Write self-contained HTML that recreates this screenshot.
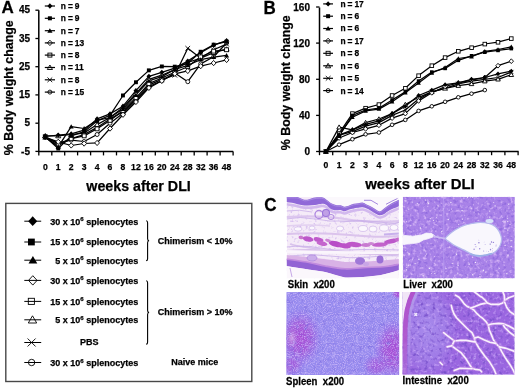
<!DOCTYPE html>
<html><head><meta charset="utf-8"><style>
html,body{margin:0;padding:0;background:#fff;}
body{width:520px;height:389px;overflow:hidden;}
svg{display:block;will-change:transform;}
text{font-family:"Liberation Sans", sans-serif;font-weight:bold;fill:#000;stroke:#000;stroke-width:0.25px;}
.pl{font-size:17px;}
.pc{font-size:17px;}
.tl{font-size:10px;}
.xl{font-size:8.6px;}
.lg{font-size:8.4px;word-spacing:-0.3px;}
.yl{font-size:12.4px;}
.wt{font-size:15px;}
.bx{font-size:9px;}
.sup{font-size:6px;}
.cl{font-size:9.6px;}
</style></head><body>
<svg width="520" height="389" viewBox="0 0 520 389">
<defs><filter id="nL" x="0" y="0" width="1" height="1" color-interpolation-filters="sRGB"><feTurbulence type="fractalNoise" baseFrequency="0.3" numOctaves="2" seed="3"/><feColorMatrix type="matrix" values="0 0 0 0 0.871 0 0 0 0 0.745 0 0 0 0 0.980 2.6 0 0 0 -1.35"/><feGaussianBlur stdDeviation="0.45"/></filter><filter id="nD" x="0" y="0" width="1" height="1" color-interpolation-filters="sRGB"><feTurbulence type="fractalNoise" baseFrequency="0.28" numOctaves="2" seed="8"/><feColorMatrix type="matrix" values="0 0 0 0 0.541 0 0 0 0 0.392 0 0 0 0 0.863 0 2.6 0 0 -1.35"/><feGaussianBlur stdDeviation="0.45"/></filter><filter id="nS" x="0" y="0" width="1" height="1" color-interpolation-filters="sRGB"><feTurbulence type="fractalNoise" baseFrequency="0.9" numOctaves="1" seed="5"/><feColorMatrix type="matrix" values="0 0 0 0 0.824 0 0 0 0 0.737 0 0 0 0 0.980 2.5 0 0 0 -1.15"/><feGaussianBlur stdDeviation="0.45"/></filter><filter id="nSD" x="0" y="0" width="1" height="1" color-interpolation-filters="sRGB"><feTurbulence type="fractalNoise" baseFrequency="0.22" numOctaves="2" seed="11"/><feColorMatrix type="matrix" values="0 0 0 0 0.490 0 0 0 0 0.424 0 0 0 0 0.878 0 2.2 0 0 -1.2"/><feGaussianBlur stdDeviation="0.45"/></filter><filter id="nS2" x="0" y="0" width="1" height="1" color-interpolation-filters="sRGB"><feTurbulence type="fractalNoise" baseFrequency="0.25" numOctaves="2" seed="29"/><feColorMatrix type="matrix" values="0 0 0 0 0.769 0 0 0 0 0.714 0 0 0 0 0.980 0 0 2.0 0 -1.1"/><feGaussianBlur stdDeviation="0.45"/></filter><filter id="nI" x="0" y="0" width="1" height="1" color-interpolation-filters="sRGB"><feTurbulence type="fractalNoise" baseFrequency="0.3" numOctaves="2" seed="13"/><feColorMatrix type="matrix" values="0 0 0 0 0.784 0 0 0 0 0.647 0 0 0 0 0.965 2.6 0 0 0 -1.35"/><feGaussianBlur stdDeviation="0.45"/></filter><filter id="nID" x="0" y="0" width="1" height="1" color-interpolation-filters="sRGB"><feTurbulence type="fractalNoise" baseFrequency="0.28" numOctaves="2" seed="17"/><feColorMatrix type="matrix" values="0 0 0 0 0.451 0 0 0 0 0.294 0 0 0 0 0.784 0 2.6 0 0 -1.35"/><feGaussianBlur stdDeviation="0.45"/></filter><filter id="nK" x="0" y="0" width="1" height="1" color-interpolation-filters="sRGB"><feTurbulence type="fractalNoise" baseFrequency="0.35" numOctaves="2" seed="21"/><feColorMatrix type="matrix" values="0 0 0 0 0.784 0 0 0 0 0.667 0 0 0 0 0.925 2.4 0 0 0 -1.35"/><feGaussianBlur stdDeviation="0.45"/></filter></defs>
<text transform="translate(1.5 13.4) scale(1.0 1.02)" class="pl">A</text>
<path d="M38.8 10.2 V151.6 H233.2" fill="none" stroke="#000" stroke-width="1.5"/>
<path d="M35.4 10.2 H38.8" stroke="#000" stroke-width="1.3"/>
<text x="30.0" y="13.3" class="tl" text-anchor="end">45</text>
<path d="M35.4 38.5 H38.8" stroke="#000" stroke-width="1.3"/>
<text x="30.0" y="41.6" class="tl" text-anchor="end">35</text>
<path d="M35.4 66.7 H38.8" stroke="#000" stroke-width="1.3"/>
<text x="30.0" y="69.8" class="tl" text-anchor="end">25</text>
<path d="M35.4 94.9 H38.8" stroke="#000" stroke-width="1.3"/>
<text x="30.0" y="98.0" class="tl" text-anchor="end">15</text>
<path d="M35.4 123.2 H38.8" stroke="#000" stroke-width="1.3"/>
<text x="30.0" y="126.3" class="tl" text-anchor="end">5</text>
<path d="M35.4 151.4 H38.8" stroke="#000" stroke-width="1.3"/>
<text x="30.0" y="154.5" class="tl" text-anchor="end">-5</text>
<path d="M38.8 151.6 V155.4" stroke="#000" stroke-width="1.3"/>
<path d="M51.8 151.6 V155.4" stroke="#000" stroke-width="1.3"/>
<path d="M64.7 151.6 V155.4" stroke="#000" stroke-width="1.3"/>
<path d="M77.6 151.6 V155.4" stroke="#000" stroke-width="1.3"/>
<path d="M90.6 151.6 V155.4" stroke="#000" stroke-width="1.3"/>
<path d="M103.5 151.6 V155.4" stroke="#000" stroke-width="1.3"/>
<path d="M116.5 151.6 V155.4" stroke="#000" stroke-width="1.3"/>
<path d="M129.4 151.6 V155.4" stroke="#000" stroke-width="1.3"/>
<path d="M142.4 151.6 V155.4" stroke="#000" stroke-width="1.3"/>
<path d="M155.3 151.6 V155.4" stroke="#000" stroke-width="1.3"/>
<path d="M168.3 151.6 V155.4" stroke="#000" stroke-width="1.3"/>
<path d="M181.2 151.6 V155.4" stroke="#000" stroke-width="1.3"/>
<path d="M194.2 151.6 V155.4" stroke="#000" stroke-width="1.3"/>
<path d="M207.1 151.6 V155.4" stroke="#000" stroke-width="1.3"/>
<path d="M220.1 151.6 V155.4" stroke="#000" stroke-width="1.3"/>
<path d="M233.1 151.6 V155.4" stroke="#000" stroke-width="1.3"/>
<text x="45.3" y="170.4" class="xl" text-anchor="middle">0</text>
<text x="58.2" y="170.4" class="xl" text-anchor="middle">1</text>
<text x="71.2" y="170.4" class="xl" text-anchor="middle">2</text>
<text x="84.1" y="170.4" class="xl" text-anchor="middle">3</text>
<text x="97.1" y="170.4" class="xl" text-anchor="middle">4</text>
<text x="110.0" y="170.4" class="xl" text-anchor="middle">6</text>
<text x="123.0" y="170.4" class="xl" text-anchor="middle">8</text>
<text x="135.9" y="170.4" class="xl" text-anchor="middle">12</text>
<text x="148.9" y="170.4" class="xl" text-anchor="middle">16</text>
<text x="161.8" y="170.4" class="xl" text-anchor="middle">20</text>
<text x="174.8" y="170.4" class="xl" text-anchor="middle">24</text>
<text x="187.8" y="170.4" class="xl" text-anchor="middle">28</text>
<text x="200.7" y="170.4" class="xl" text-anchor="middle">32</text>
<text x="213.6" y="170.4" class="xl" text-anchor="middle">36</text>
<text x="226.6" y="170.4" class="xl" text-anchor="middle">48</text>
<path d="M44.8 6.0 H55" stroke="#000" stroke-width="1.2"/>
<path d="M49.9 3.3L52.4 6.0L49.9 8.7L47.4 6.0Z" fill="#000"/>
<text x="60.8" y="8.9" class="lg">n = 9</text>
<path d="M44.8 18.3 H55" stroke="#000" stroke-width="1.2"/>
<rect x="47.9" y="16.3" width="4.0" height="4.0" fill="#000"/>
<text x="60.8" y="21.2" class="lg">n = 9</text>
<path d="M44.8 30.7 H55" stroke="#000" stroke-width="1.2"/>
<path d="M49.9 28.2L52.5 32.7L47.3 32.7Z" fill="#000"/>
<text x="60.8" y="33.6" class="lg">n = 7</text>
<path d="M44.8 42.9 H55" stroke="#000" stroke-width="1.2"/>
<path d="M49.9 40.2L52.4 42.9L49.9 45.6L47.4 42.9Z" fill="none" stroke="#000" stroke-width="0.9"/>
<text x="60.8" y="45.8" class="lg">n = 13</text>
<path d="M44.8 55.1 H55" stroke="#000" stroke-width="1.2"/>
<rect x="47.9" y="53.1" width="4.0" height="4.0" fill="none" stroke="#000" stroke-width="0.9"/>
<text x="60.8" y="58.0" class="lg">n = 8</text>
<path d="M44.8 67.5 H55" stroke="#000" stroke-width="1.2"/>
<path d="M49.9 65.0L52.5 69.5L47.3 69.5Z" fill="none" stroke="#000" stroke-width="0.9"/>
<text x="60.8" y="70.4" class="lg">n = 11</text>
<path d="M44.8 79.8 H55" stroke="#000" stroke-width="1.2"/>
<path d="M47.5 77.5L52.2 82.1M52.2 77.5L47.5 82.1" stroke="#000" stroke-width="0.9" fill="none"/>
<text x="60.8" y="82.7" class="lg">n = 8</text>
<path d="M44.8 92.1 H55" stroke="#000" stroke-width="1.2"/>
<circle cx="49.9" cy="92.1" r="2.0" fill="none" stroke="#000" stroke-width="0.9"/>
<text x="60.8" y="95.0" class="lg">n = 15</text>
<path d="M45.3 136.5 L58.2 135.0 L71.2 133.9 L84.1 130.2 L97.1 118.9 L110.0 113.9 L123.0 106.2 L135.9 90.7 L148.9 76.3 L161.8 72.3 L174.8 68.1 L187.8 61.1 L200.7 52.6 L213.6 45.2 L226.6 40.7" fill="none" stroke="#000" stroke-width="1.25" stroke-linejoin="round"/>
<path d="M45.3 136.7 L58.2 148.6 L71.2 135.9 L84.1 131.7 L97.1 120.9 L110.0 115.3 L123.0 95.5 L135.9 82.2 L148.9 70.4 L161.8 66.4 L174.8 66.7 L187.8 63.3 L200.7 51.7 L213.6 44.7 L226.6 41.6" fill="none" stroke="#000" stroke-width="1.25" stroke-linejoin="round"/>
<path d="M45.3 137.3 L58.2 146.9 L71.2 126.6 L84.1 128.5 L97.1 120.4 L110.0 117.5 L123.0 109.1 L135.9 94.9 L148.9 80.8 L161.8 76.6 L174.8 69.5 L187.8 65.3 L200.7 59.6 L213.6 57.1 L226.6 55.4" fill="none" stroke="#000" stroke-width="1.25" stroke-linejoin="round"/>
<path d="M45.3 137.3 L58.2 141.8 L71.2 145.5 L84.1 143.5 L97.1 142.9 L110.0 128.5 L123.0 114.7 L135.9 102.0 L148.9 87.9 L161.8 80.8 L174.8 73.8 L187.8 70.9 L200.7 66.1 L213.6 63.0 L226.6 59.9" fill="none" stroke="#000" stroke-width="1.25" stroke-linejoin="round"/>
<path d="M45.3 136.7 L58.2 144.1 L71.2 138.7 L84.1 135.9 L97.1 128.8 L110.0 120.4 L123.0 110.5 L135.9 97.8 L148.9 83.6 L161.8 78.0 L174.8 72.3 L187.8 66.7 L200.7 56.8 L213.6 51.2 L226.6 49.8" fill="none" stroke="#000" stroke-width="1.25" stroke-linejoin="round"/>
<path d="M45.3 135.9 L58.2 135.9 L71.2 134.5 L84.1 133.1 L97.1 124.6 L110.0 117.5 L123.0 107.6 L135.9 93.5 L148.9 79.4 L161.8 75.2 L174.8 69.5 L187.8 62.5 L200.7 58.2 L213.6 52.6 L226.6 49.2" fill="none" stroke="#000" stroke-width="1.25" stroke-linejoin="round"/>
<path d="M45.3 137.3 L58.2 145.8 L71.2 138.7 L84.1 134.5 L97.1 127.4 L110.0 118.9 L123.0 111.9 L135.9 99.2 L148.9 85.1 L161.8 79.4 L174.8 75.2 L187.8 48.3 L200.7 58.2 L213.6 49.8 L226.6 44.1" fill="none" stroke="#000" stroke-width="1.25" stroke-linejoin="round"/>
<path d="M45.3 137.3 L58.2 142.9 L71.2 140.1 L84.1 141.5 L97.1 134.5 L110.0 123.2 L123.0 113.3 L135.9 100.6 L148.9 86.5 L161.8 80.8 L174.8 72.9 L187.8 81.7 L200.7 63.9 L213.6 56.8 L226.6 43.0" fill="none" stroke="#000" stroke-width="1.25" stroke-linejoin="round"/>
<circle cx="45.3" cy="137.3" r="2.0" fill="#fff" stroke="#000" stroke-width="0.9"/>
<circle cx="58.2" cy="142.9" r="2.0" fill="#fff" stroke="#000" stroke-width="0.9"/>
<circle cx="71.2" cy="140.1" r="2.0" fill="#fff" stroke="#000" stroke-width="0.9"/>
<circle cx="84.1" cy="141.5" r="2.0" fill="#fff" stroke="#000" stroke-width="0.9"/>
<circle cx="97.1" cy="134.5" r="2.0" fill="#fff" stroke="#000" stroke-width="0.9"/>
<circle cx="110.0" cy="123.2" r="2.0" fill="#fff" stroke="#000" stroke-width="0.9"/>
<circle cx="123.0" cy="113.3" r="2.0" fill="#fff" stroke="#000" stroke-width="0.9"/>
<circle cx="135.9" cy="100.6" r="2.0" fill="#fff" stroke="#000" stroke-width="0.9"/>
<circle cx="148.9" cy="86.5" r="2.0" fill="#fff" stroke="#000" stroke-width="0.9"/>
<circle cx="161.8" cy="80.8" r="2.0" fill="#fff" stroke="#000" stroke-width="0.9"/>
<circle cx="174.8" cy="72.9" r="2.0" fill="#fff" stroke="#000" stroke-width="0.9"/>
<circle cx="187.8" cy="81.7" r="2.0" fill="#fff" stroke="#000" stroke-width="0.9"/>
<circle cx="200.7" cy="63.9" r="2.0" fill="#fff" stroke="#000" stroke-width="0.9"/>
<circle cx="213.6" cy="56.8" r="2.0" fill="#fff" stroke="#000" stroke-width="0.9"/>
<circle cx="226.6" cy="43.0" r="2.0" fill="#fff" stroke="#000" stroke-width="0.9"/>
<path d="M43.0 135.0L47.6 139.6M47.6 135.0L43.0 139.6" stroke="#000" stroke-width="0.9" fill="none"/>
<path d="M56.0 143.5L60.5 148.1M60.5 143.5L56.0 148.1" stroke="#000" stroke-width="0.9" fill="none"/>
<path d="M68.9 136.4L73.5 141.0M73.5 136.4L68.9 141.0" stroke="#000" stroke-width="0.9" fill="none"/>
<path d="M81.8 132.2L86.4 136.8M86.4 132.2L81.8 136.8" stroke="#000" stroke-width="0.9" fill="none"/>
<path d="M94.8 125.1L99.4 129.7M99.4 125.1L94.8 129.7" stroke="#000" stroke-width="0.9" fill="none"/>
<path d="M107.8 116.6L112.3 121.2M112.3 116.6L107.8 121.2" stroke="#000" stroke-width="0.9" fill="none"/>
<path d="M120.7 109.6L125.3 114.2M125.3 109.6L120.7 114.2" stroke="#000" stroke-width="0.9" fill="none"/>
<path d="M133.6 96.9L138.2 101.5M138.2 96.9L133.6 101.5" stroke="#000" stroke-width="0.9" fill="none"/>
<path d="M146.6 82.8L151.2 87.4M151.2 82.8L146.6 87.4" stroke="#000" stroke-width="0.9" fill="none"/>
<path d="M159.5 77.1L164.2 81.7M164.2 77.1L159.5 81.7" stroke="#000" stroke-width="0.9" fill="none"/>
<path d="M172.5 72.9L177.1 77.5M177.1 72.9L172.5 77.5" stroke="#000" stroke-width="0.9" fill="none"/>
<path d="M185.4 46.0L190.1 50.6M190.1 46.0L185.4 50.6" stroke="#000" stroke-width="0.9" fill="none"/>
<path d="M198.4 55.9L203.0 60.5M203.0 55.9L198.4 60.5" stroke="#000" stroke-width="0.9" fill="none"/>
<path d="M211.3 47.5L215.9 52.1M215.9 47.5L211.3 52.1" stroke="#000" stroke-width="0.9" fill="none"/>
<path d="M224.3 41.8L228.9 46.4M228.9 41.8L224.3 46.4" stroke="#000" stroke-width="0.9" fill="none"/>
<path d="M45.3 133.5L47.8 137.8L42.8 137.8Z" fill="#fff" stroke="#000" stroke-width="0.9"/>
<path d="M58.2 133.5L60.8 137.8L55.7 137.8Z" fill="#fff" stroke="#000" stroke-width="0.9"/>
<path d="M71.2 132.1L73.7 136.4L68.7 136.4Z" fill="#fff" stroke="#000" stroke-width="0.9"/>
<path d="M84.1 130.6L86.7 135.0L81.6 135.0Z" fill="#fff" stroke="#000" stroke-width="0.9"/>
<path d="M97.1 122.2L99.6 126.5L94.6 126.5Z" fill="#fff" stroke="#000" stroke-width="0.9"/>
<path d="M110.0 115.1L112.6 119.5L107.5 119.5Z" fill="#fff" stroke="#000" stroke-width="0.9"/>
<path d="M123.0 105.2L125.5 109.6L120.5 109.6Z" fill="#fff" stroke="#000" stroke-width="0.9"/>
<path d="M135.9 91.1L138.5 95.5L133.4 95.5Z" fill="#fff" stroke="#000" stroke-width="0.9"/>
<path d="M148.9 77.0L151.4 81.4L146.4 81.4Z" fill="#fff" stroke="#000" stroke-width="0.9"/>
<path d="M161.8 72.8L164.4 77.1L159.3 77.1Z" fill="#fff" stroke="#000" stroke-width="0.9"/>
<path d="M174.8 67.1L177.3 71.5L172.3 71.5Z" fill="#fff" stroke="#000" stroke-width="0.9"/>
<path d="M187.8 60.0L190.3 64.4L185.2 64.4Z" fill="#fff" stroke="#000" stroke-width="0.9"/>
<path d="M200.7 55.8L203.2 60.2L198.2 60.2Z" fill="#fff" stroke="#000" stroke-width="0.9"/>
<path d="M213.6 50.2L216.2 54.5L211.1 54.5Z" fill="#fff" stroke="#000" stroke-width="0.9"/>
<path d="M226.6 46.8L229.1 51.1L224.1 51.1Z" fill="#fff" stroke="#000" stroke-width="0.9"/>
<rect x="43.3" y="134.8" width="3.9" height="3.9" fill="#fff" stroke="#000" stroke-width="0.9"/>
<rect x="56.3" y="142.1" width="3.9" height="3.9" fill="#fff" stroke="#000" stroke-width="0.9"/>
<rect x="69.2" y="136.8" width="3.9" height="3.9" fill="#fff" stroke="#000" stroke-width="0.9"/>
<rect x="82.2" y="133.9" width="3.9" height="3.9" fill="#fff" stroke="#000" stroke-width="0.9"/>
<rect x="95.1" y="126.9" width="3.9" height="3.9" fill="#fff" stroke="#000" stroke-width="0.9"/>
<rect x="108.1" y="118.4" width="3.9" height="3.9" fill="#fff" stroke="#000" stroke-width="0.9"/>
<rect x="121.0" y="108.5" width="3.9" height="3.9" fill="#fff" stroke="#000" stroke-width="0.9"/>
<rect x="134.0" y="95.8" width="3.9" height="3.9" fill="#fff" stroke="#000" stroke-width="0.9"/>
<rect x="146.9" y="81.7" width="3.9" height="3.9" fill="#fff" stroke="#000" stroke-width="0.9"/>
<rect x="159.9" y="76.0" width="3.9" height="3.9" fill="#fff" stroke="#000" stroke-width="0.9"/>
<rect x="172.8" y="70.4" width="3.9" height="3.9" fill="#fff" stroke="#000" stroke-width="0.9"/>
<rect x="185.8" y="64.7" width="3.9" height="3.9" fill="#fff" stroke="#000" stroke-width="0.9"/>
<rect x="198.7" y="54.9" width="3.9" height="3.9" fill="#fff" stroke="#000" stroke-width="0.9"/>
<rect x="211.7" y="49.2" width="3.9" height="3.9" fill="#fff" stroke="#000" stroke-width="0.9"/>
<rect x="224.6" y="47.8" width="3.9" height="3.9" fill="#fff" stroke="#000" stroke-width="0.9"/>
<path d="M45.3 134.7L47.7 137.3L45.3 139.9L42.9 137.3Z" fill="#fff" stroke="#000" stroke-width="0.9"/>
<path d="M58.2 139.2L60.7 141.8L58.2 144.5L55.8 141.8Z" fill="#fff" stroke="#000" stroke-width="0.9"/>
<path d="M71.2 142.8L73.6 145.5L71.2 148.1L68.8 145.5Z" fill="#fff" stroke="#000" stroke-width="0.9"/>
<path d="M84.1 140.9L86.6 143.5L84.1 146.2L81.7 143.5Z" fill="#fff" stroke="#000" stroke-width="0.9"/>
<path d="M97.1 140.3L99.5 142.9L97.1 145.6L94.7 142.9Z" fill="#fff" stroke="#000" stroke-width="0.9"/>
<path d="M110.0 125.9L112.5 128.5L110.0 131.2L107.6 128.5Z" fill="#fff" stroke="#000" stroke-width="0.9"/>
<path d="M123.0 112.1L125.4 114.7L123.0 117.4L120.6 114.7Z" fill="#fff" stroke="#000" stroke-width="0.9"/>
<path d="M135.9 99.4L138.4 102.0L135.9 104.6L133.5 102.0Z" fill="#fff" stroke="#000" stroke-width="0.9"/>
<path d="M148.9 85.2L151.3 87.9L148.9 90.5L146.5 87.9Z" fill="#fff" stroke="#000" stroke-width="0.9"/>
<path d="M161.8 78.2L164.3 80.8L161.8 83.5L159.4 80.8Z" fill="#fff" stroke="#000" stroke-width="0.9"/>
<path d="M174.8 71.1L177.2 73.8L174.8 76.4L172.4 73.8Z" fill="#fff" stroke="#000" stroke-width="0.9"/>
<path d="M187.8 68.3L190.2 70.9L187.8 73.6L185.3 70.9Z" fill="#fff" stroke="#000" stroke-width="0.9"/>
<path d="M200.7 63.5L203.1 66.1L200.7 68.8L198.3 66.1Z" fill="#fff" stroke="#000" stroke-width="0.9"/>
<path d="M213.6 60.4L216.1 63.0L213.6 65.7L211.2 63.0Z" fill="#fff" stroke="#000" stroke-width="0.9"/>
<path d="M226.6 57.3L229.0 59.9L226.6 62.6L224.2 59.9Z" fill="#fff" stroke="#000" stroke-width="0.9"/>
<path d="M45.3 134.9L47.8 139.3L42.8 139.3Z" fill="#000"/>
<path d="M58.2 144.5L60.8 148.9L55.7 148.9Z" fill="#000"/>
<path d="M71.2 124.2L73.7 128.5L68.7 128.5Z" fill="#000"/>
<path d="M84.1 126.1L86.7 130.5L81.6 130.5Z" fill="#000"/>
<path d="M97.1 117.9L99.6 122.3L94.6 122.3Z" fill="#000"/>
<path d="M110.0 115.1L112.6 119.5L107.5 119.5Z" fill="#000"/>
<path d="M123.0 106.6L125.5 111.0L120.5 111.0Z" fill="#000"/>
<path d="M135.9 92.5L138.5 96.9L133.4 96.9Z" fill="#000"/>
<path d="M148.9 78.4L151.4 82.8L146.4 82.8Z" fill="#000"/>
<path d="M161.8 74.2L164.4 78.5L159.3 78.5Z" fill="#000"/>
<path d="M174.8 67.1L177.3 71.5L172.3 71.5Z" fill="#000"/>
<path d="M187.8 62.9L190.3 67.2L185.2 67.2Z" fill="#000"/>
<path d="M200.7 57.2L203.2 61.6L198.2 61.6Z" fill="#000"/>
<path d="M213.6 54.7L216.2 59.1L211.1 59.1Z" fill="#000"/>
<path d="M226.6 53.0L229.1 57.4L224.1 57.4Z" fill="#000"/>
<path d="M45.3 133.8L47.7 136.5L45.3 139.1L42.9 136.5Z" fill="#000"/>
<path d="M58.2 132.4L60.7 135.0L58.2 137.7L55.8 135.0Z" fill="#000"/>
<path d="M71.2 131.3L73.6 133.9L71.2 136.6L68.8 133.9Z" fill="#000"/>
<path d="M84.1 127.6L86.6 130.2L84.1 132.9L81.7 130.2Z" fill="#000"/>
<path d="M97.1 116.3L99.5 118.9L97.1 121.6L94.7 118.9Z" fill="#000"/>
<path d="M110.0 111.2L112.5 113.9L110.0 116.5L107.6 113.9Z" fill="#000"/>
<path d="M123.0 103.6L125.4 106.2L123.0 108.9L120.6 106.2Z" fill="#000"/>
<path d="M135.9 88.1L138.4 90.7L135.9 93.3L133.5 90.7Z" fill="#000"/>
<path d="M148.9 73.7L151.3 76.3L148.9 78.9L146.5 76.3Z" fill="#000"/>
<path d="M161.8 69.7L164.3 72.3L161.8 75.0L159.4 72.3Z" fill="#000"/>
<path d="M174.8 65.5L177.2 68.1L174.8 70.8L172.4 68.1Z" fill="#000"/>
<path d="M187.8 58.4L190.2 61.1L187.8 63.7L185.3 61.1Z" fill="#000"/>
<path d="M200.7 49.9L203.1 52.6L200.7 55.2L198.3 52.6Z" fill="#000"/>
<path d="M213.6 42.6L216.1 45.2L213.6 47.9L211.2 45.2Z" fill="#000"/>
<path d="M226.6 38.1L229.0 40.7L226.6 43.4L224.2 40.7Z" fill="#000"/>
<rect x="43.3" y="134.8" width="3.9" height="3.9" fill="#000"/>
<rect x="56.3" y="146.6" width="3.9" height="3.9" fill="#000"/>
<rect x="69.2" y="133.9" width="3.9" height="3.9" fill="#000"/>
<rect x="82.2" y="129.7" width="3.9" height="3.9" fill="#000"/>
<rect x="95.1" y="119.0" width="3.9" height="3.9" fill="#000"/>
<rect x="108.1" y="113.3" width="3.9" height="3.9" fill="#000"/>
<rect x="121.0" y="93.5" width="3.9" height="3.9" fill="#000"/>
<rect x="134.0" y="80.3" width="3.9" height="3.9" fill="#000"/>
<rect x="146.9" y="68.4" width="3.9" height="3.9" fill="#000"/>
<rect x="159.9" y="64.5" width="3.9" height="3.9" fill="#000"/>
<rect x="172.8" y="64.7" width="3.9" height="3.9" fill="#000"/>
<rect x="185.8" y="61.4" width="3.9" height="3.9" fill="#000"/>
<rect x="198.7" y="49.8" width="3.9" height="3.9" fill="#000"/>
<rect x="211.7" y="42.7" width="3.9" height="3.9" fill="#000"/>
<rect x="224.6" y="39.6" width="3.9" height="3.9" fill="#000"/>
<text transform="translate(13.1,155.2) rotate(-90)" class="yl">% Body weight change</text>
<text x="86.3" y="190.6" class="wt" textLength="104.5" lengthAdjust="spacingAndGlyphs">weeks after DLI</text>
<text transform="translate(263.5 13.8) scale(1.0 1.06)" class="pl">B</text>
<path d="M319.5 7.4 V151.4 H518.6" fill="none" stroke="#000" stroke-width="1.5"/>
<path d="M316.1 7.0 H319.5" stroke="#000" stroke-width="1.3"/>
<text x="310.0" y="10.5" class="tl" text-anchor="end">160</text>
<path d="M316.1 43.1 H319.5" stroke="#000" stroke-width="1.3"/>
<text x="310.0" y="46.6" class="tl" text-anchor="end">120</text>
<path d="M316.1 79.3 H319.5" stroke="#000" stroke-width="1.3"/>
<text x="310.0" y="82.8" class="tl" text-anchor="end">80</text>
<path d="M316.1 115.4 H319.5" stroke="#000" stroke-width="1.3"/>
<text x="310.0" y="118.9" class="tl" text-anchor="end">40</text>
<path d="M316.1 151.5 H319.5" stroke="#000" stroke-width="1.3"/>
<text x="310.0" y="155.0" class="tl" text-anchor="end">0</text>
<path d="M319.5 151.4 V155.20000000000002" stroke="#000" stroke-width="1.3"/>
<path d="M332.7 151.4 V155.20000000000002" stroke="#000" stroke-width="1.3"/>
<path d="M346.0 151.4 V155.20000000000002" stroke="#000" stroke-width="1.3"/>
<path d="M359.2 151.4 V155.20000000000002" stroke="#000" stroke-width="1.3"/>
<path d="M372.5 151.4 V155.20000000000002" stroke="#000" stroke-width="1.3"/>
<path d="M385.7 151.4 V155.20000000000002" stroke="#000" stroke-width="1.3"/>
<path d="M398.9 151.4 V155.20000000000002" stroke="#000" stroke-width="1.3"/>
<path d="M412.2 151.4 V155.20000000000002" stroke="#000" stroke-width="1.3"/>
<path d="M425.4 151.4 V155.20000000000002" stroke="#000" stroke-width="1.3"/>
<path d="M438.7 151.4 V155.20000000000002" stroke="#000" stroke-width="1.3"/>
<path d="M451.9 151.4 V155.20000000000002" stroke="#000" stroke-width="1.3"/>
<path d="M465.1 151.4 V155.20000000000002" stroke="#000" stroke-width="1.3"/>
<path d="M478.4 151.4 V155.20000000000002" stroke="#000" stroke-width="1.3"/>
<path d="M491.6 151.4 V155.20000000000002" stroke="#000" stroke-width="1.3"/>
<path d="M504.9 151.4 V155.20000000000002" stroke="#000" stroke-width="1.3"/>
<path d="M518.1 151.4 V155.20000000000002" stroke="#000" stroke-width="1.3"/>
<text x="325.9" y="168.2" class="xl" text-anchor="middle">0</text>
<text x="339.1" y="168.2" class="xl" text-anchor="middle">1</text>
<text x="352.4" y="168.2" class="xl" text-anchor="middle">2</text>
<text x="365.6" y="168.2" class="xl" text-anchor="middle">3</text>
<text x="378.9" y="168.2" class="xl" text-anchor="middle">4</text>
<text x="392.1" y="168.2" class="xl" text-anchor="middle">6</text>
<text x="405.3" y="168.2" class="xl" text-anchor="middle">8</text>
<text x="418.6" y="168.2" class="xl" text-anchor="middle">12</text>
<text x="431.8" y="168.2" class="xl" text-anchor="middle">16</text>
<text x="445.1" y="168.2" class="xl" text-anchor="middle">20</text>
<text x="458.3" y="168.2" class="xl" text-anchor="middle">24</text>
<text x="471.5" y="168.2" class="xl" text-anchor="middle">28</text>
<text x="484.8" y="168.2" class="xl" text-anchor="middle">32</text>
<text x="498.0" y="168.2" class="xl" text-anchor="middle">36</text>
<text x="511.3" y="168.2" class="xl" text-anchor="middle">48</text>
<path d="M323.2 3.9 H333" stroke="#000" stroke-width="1.2"/>
<path d="M328.1 1.2L330.6 3.9L328.1 6.6L325.6 3.9Z" fill="#000"/>
<text x="340.4" y="6.8" class="lg">n = 17</text>
<path d="M323.2 16.2 H333" stroke="#000" stroke-width="1.2"/>
<rect x="326.1" y="14.2" width="4.0" height="4.0" fill="#000"/>
<text x="340.4" y="19.1" class="lg">n = 6</text>
<path d="M323.2 28.5 H333" stroke="#000" stroke-width="1.2"/>
<path d="M328.1 26.0L330.7 30.5L325.5 30.5Z" fill="#000"/>
<text x="340.4" y="31.4" class="lg">n = 6</text>
<path d="M323.2 40.9 H333" stroke="#000" stroke-width="1.2"/>
<path d="M328.1 38.2L330.6 40.9L328.1 43.6L325.6 40.9Z" fill="none" stroke="#000" stroke-width="0.9"/>
<text x="340.4" y="43.8" class="lg">n = 17</text>
<path d="M323.2 53.3 H333" stroke="#000" stroke-width="1.2"/>
<rect x="326.1" y="51.3" width="4.0" height="4.0" fill="none" stroke="#000" stroke-width="0.9"/>
<text x="340.4" y="56.2" class="lg">n = 8</text>
<path d="M323.2 65.8 H333" stroke="#000" stroke-width="1.2"/>
<path d="M328.1 63.3L330.7 67.8L325.5 67.8Z" fill="none" stroke="#000" stroke-width="0.9"/>
<text x="340.4" y="68.7" class="lg">n = 6</text>
<path d="M323.2 78.3 H333" stroke="#000" stroke-width="1.2"/>
<path d="M325.8 76.0L330.5 80.6M330.5 76.0L325.8 80.6" stroke="#000" stroke-width="0.9" fill="none"/>
<text x="340.4" y="81.2" class="lg">n = 5</text>
<path d="M323.2 90.6 H333" stroke="#000" stroke-width="1.2"/>
<circle cx="328.1" cy="90.6" r="2.0" fill="none" stroke="#000" stroke-width="0.9"/>
<text x="340.4" y="93.5" class="lg">n = 14</text>
<path d="M325.9 151.5 L339.1 135.2 L352.4 129.8 L365.6 124.4 L378.9 120.8 L392.1 113.6 L405.3 106.3 L418.6 95.5 L431.8 90.1 L445.1 84.7 L458.3 82.9 L471.5 79.3 L484.8 77.5 L498.0 73.8 L511.3 71.1" fill="none" stroke="#000" stroke-width="1.25" stroke-linejoin="round"/>
<path d="M325.9 151.5 L339.1 136.1 L352.4 115.4 L365.6 110.0 L378.9 108.2 L392.1 100.0 L405.3 91.9 L418.6 81.1 L431.8 72.0 L445.1 68.4 L458.3 60.3 L471.5 55.8 L484.8 52.2 L498.0 50.4 L511.3 48.6" fill="none" stroke="#000" stroke-width="1.25" stroke-linejoin="round"/>
<path d="M325.9 151.5 L339.1 134.3 L352.4 117.2 L365.6 110.9 L378.9 109.1 L392.1 101.8 L405.3 92.8 L418.6 82.9 L431.8 72.9 L445.1 67.5 L458.3 58.5 L471.5 56.7 L484.8 51.3 L498.0 49.5 L511.3 46.8" fill="none" stroke="#000" stroke-width="1.25" stroke-linejoin="round"/>
<path d="M325.9 151.5 L339.1 138.0 L352.4 132.5 L365.6 128.9 L378.9 125.3 L392.1 118.1 L405.3 113.6 L418.6 100.9 L431.8 92.8 L445.1 86.5 L458.3 82.9 L471.5 80.2 L484.8 77.5 L498.0 65.7 L511.3 61.2" fill="none" stroke="#000" stroke-width="1.25" stroke-linejoin="round"/>
<path d="M325.9 151.5 L339.1 133.4 L352.4 113.6 L365.6 108.2 L378.9 104.5 L392.1 95.5 L405.3 88.3 L418.6 75.6 L431.8 65.7 L445.1 57.6 L458.3 51.3 L471.5 47.7 L484.8 44.0 L498.0 42.2 L511.3 38.6" fill="none" stroke="#000" stroke-width="1.25" stroke-linejoin="round"/>
<path d="M325.9 151.5 L339.1 127.1 L352.4 129.8 L365.6 122.6 L378.9 119.0 L392.1 113.6 L405.3 104.5 L418.6 97.3 L431.8 91.9 L445.1 88.3 L458.3 85.6 L471.5 83.8 L484.8 81.1 L498.0 79.3 L511.3 74.7" fill="none" stroke="#000" stroke-width="1.25" stroke-linejoin="round"/>
<path d="M325.9 151.5 L339.1 135.2 L352.4 131.6 L365.6 126.2 L378.9 122.6 L392.1 115.4 L405.3 110.0 L418.6 99.1 L431.8 91.9 L445.1 88.3 L458.3 83.8 L471.5 81.1 L484.8 79.3 L498.0 77.5 L511.3 72.0" fill="none" stroke="#000" stroke-width="1.25" stroke-linejoin="round"/>
<path d="M325.9 151.5 L339.1 144.7 L352.4 139.2 L365.6 134.3 L378.9 132.5 L392.1 124.8 L405.3 119.9 L418.6 110.9 L431.8 106.3 L445.1 101.8 L458.3 97.3 L471.5 93.7 L484.8 90.1" fill="none" stroke="#000" stroke-width="1.25" stroke-linejoin="round"/>
<circle cx="325.9" cy="151.5" r="1.8" fill="#fff" stroke="#000" stroke-width="0.9"/>
<circle cx="339.1" cy="144.7" r="1.8" fill="#fff" stroke="#000" stroke-width="0.9"/>
<circle cx="352.4" cy="139.2" r="1.8" fill="#fff" stroke="#000" stroke-width="0.9"/>
<circle cx="365.6" cy="134.3" r="1.8" fill="#fff" stroke="#000" stroke-width="0.9"/>
<circle cx="378.9" cy="132.5" r="1.8" fill="#fff" stroke="#000" stroke-width="0.9"/>
<circle cx="392.1" cy="124.8" r="1.8" fill="#fff" stroke="#000" stroke-width="0.9"/>
<circle cx="405.3" cy="119.9" r="1.8" fill="#fff" stroke="#000" stroke-width="0.9"/>
<circle cx="418.6" cy="110.9" r="1.8" fill="#fff" stroke="#000" stroke-width="0.9"/>
<circle cx="431.8" cy="106.3" r="1.8" fill="#fff" stroke="#000" stroke-width="0.9"/>
<circle cx="445.1" cy="101.8" r="1.8" fill="#fff" stroke="#000" stroke-width="0.9"/>
<circle cx="458.3" cy="97.3" r="1.8" fill="#fff" stroke="#000" stroke-width="0.9"/>
<circle cx="471.5" cy="93.7" r="1.8" fill="#fff" stroke="#000" stroke-width="0.9"/>
<circle cx="484.8" cy="90.1" r="1.8" fill="#fff" stroke="#000" stroke-width="0.9"/>
<path d="M323.8 149.4L328.0 153.6M328.0 149.4L323.8 153.6" stroke="#000" stroke-width="0.9" fill="none"/>
<path d="M337.0 133.1L341.2 137.3M341.2 133.1L337.0 137.3" stroke="#000" stroke-width="0.9" fill="none"/>
<path d="M350.3 129.5L354.5 133.7M354.5 129.5L350.3 133.7" stroke="#000" stroke-width="0.9" fill="none"/>
<path d="M363.5 124.1L367.7 128.3M367.7 124.1L363.5 128.3" stroke="#000" stroke-width="0.9" fill="none"/>
<path d="M376.8 120.5L381.0 124.7M381.0 120.5L376.8 124.7" stroke="#000" stroke-width="0.9" fill="none"/>
<path d="M390.0 113.3L394.2 117.5M394.2 113.3L390.0 117.5" stroke="#000" stroke-width="0.9" fill="none"/>
<path d="M403.2 107.9L407.4 112.1M407.4 107.9L403.2 112.1" stroke="#000" stroke-width="0.9" fill="none"/>
<path d="M416.5 97.0L420.7 101.2M420.7 97.0L416.5 101.2" stroke="#000" stroke-width="0.9" fill="none"/>
<path d="M429.7 89.8L433.9 94.0M433.9 89.8L429.7 94.0" stroke="#000" stroke-width="0.9" fill="none"/>
<path d="M443.0 86.2L447.2 90.4M447.2 86.2L443.0 90.4" stroke="#000" stroke-width="0.9" fill="none"/>
<path d="M456.2 81.7L460.4 85.9M460.4 81.7L456.2 85.9" stroke="#000" stroke-width="0.9" fill="none"/>
<path d="M469.4 79.0L473.6 83.2M473.6 79.0L469.4 83.2" stroke="#000" stroke-width="0.9" fill="none"/>
<path d="M482.7 77.2L486.9 81.4M486.9 77.2L482.7 81.4" stroke="#000" stroke-width="0.9" fill="none"/>
<path d="M495.9 75.4L500.1 79.6M500.1 75.4L495.9 79.6" stroke="#000" stroke-width="0.9" fill="none"/>
<path d="M509.2 69.9L513.4 74.1M513.4 69.9L509.2 74.1" stroke="#000" stroke-width="0.9" fill="none"/>
<path d="M325.9 149.3L328.2 153.3L323.6 153.3Z" fill="#fff" stroke="#000" stroke-width="0.9"/>
<path d="M339.1 124.9L341.4 128.9L336.8 128.9Z" fill="#fff" stroke="#000" stroke-width="0.9"/>
<path d="M352.4 127.6L354.7 131.6L350.1 131.6Z" fill="#fff" stroke="#000" stroke-width="0.9"/>
<path d="M365.6 120.4L367.9 124.4L363.3 124.4Z" fill="#fff" stroke="#000" stroke-width="0.9"/>
<path d="M378.9 116.8L381.2 120.8L376.5 120.8Z" fill="#fff" stroke="#000" stroke-width="0.9"/>
<path d="M392.1 111.4L394.4 115.4L389.8 115.4Z" fill="#fff" stroke="#000" stroke-width="0.9"/>
<path d="M405.3 102.3L407.6 106.3L403.0 106.3Z" fill="#fff" stroke="#000" stroke-width="0.9"/>
<path d="M418.6 95.1L420.9 99.1L416.3 99.1Z" fill="#fff" stroke="#000" stroke-width="0.9"/>
<path d="M431.8 89.7L434.1 93.7L429.5 93.7Z" fill="#fff" stroke="#000" stroke-width="0.9"/>
<path d="M445.1 86.1L447.4 90.1L442.7 90.1Z" fill="#fff" stroke="#000" stroke-width="0.9"/>
<path d="M458.3 83.4L460.6 87.4L456.0 87.4Z" fill="#fff" stroke="#000" stroke-width="0.9"/>
<path d="M471.5 81.6L473.8 85.6L469.2 85.6Z" fill="#fff" stroke="#000" stroke-width="0.9"/>
<path d="M484.8 78.9L487.1 82.9L482.5 82.9Z" fill="#fff" stroke="#000" stroke-width="0.9"/>
<path d="M498.0 77.1L500.3 81.0L495.7 81.0Z" fill="#fff" stroke="#000" stroke-width="0.9"/>
<path d="M511.3 72.5L513.6 76.5L508.9 76.5Z" fill="#fff" stroke="#000" stroke-width="0.9"/>
<rect x="324.1" y="149.7" width="3.6" height="3.6" fill="#fff" stroke="#000" stroke-width="0.9"/>
<rect x="337.4" y="131.7" width="3.6" height="3.6" fill="#fff" stroke="#000" stroke-width="0.9"/>
<rect x="350.6" y="111.8" width="3.6" height="3.6" fill="#fff" stroke="#000" stroke-width="0.9"/>
<rect x="363.8" y="106.4" width="3.6" height="3.6" fill="#fff" stroke="#000" stroke-width="0.9"/>
<rect x="377.1" y="102.8" width="3.6" height="3.6" fill="#fff" stroke="#000" stroke-width="0.9"/>
<rect x="390.3" y="93.7" width="3.6" height="3.6" fill="#fff" stroke="#000" stroke-width="0.9"/>
<rect x="403.6" y="86.5" width="3.6" height="3.6" fill="#fff" stroke="#000" stroke-width="0.9"/>
<rect x="416.8" y="73.9" width="3.6" height="3.6" fill="#fff" stroke="#000" stroke-width="0.9"/>
<rect x="430.0" y="63.9" width="3.6" height="3.6" fill="#fff" stroke="#000" stroke-width="0.9"/>
<rect x="443.3" y="55.8" width="3.6" height="3.6" fill="#fff" stroke="#000" stroke-width="0.9"/>
<rect x="456.5" y="49.5" width="3.6" height="3.6" fill="#fff" stroke="#000" stroke-width="0.9"/>
<rect x="469.8" y="45.9" width="3.6" height="3.6" fill="#fff" stroke="#000" stroke-width="0.9"/>
<rect x="483.0" y="42.3" width="3.6" height="3.6" fill="#fff" stroke="#000" stroke-width="0.9"/>
<rect x="496.2" y="40.5" width="3.6" height="3.6" fill="#fff" stroke="#000" stroke-width="0.9"/>
<rect x="509.5" y="36.8" width="3.6" height="3.6" fill="#fff" stroke="#000" stroke-width="0.9"/>
<path d="M325.9 149.1L328.1 151.5L325.9 153.9L323.7 151.5Z" fill="#fff" stroke="#000" stroke-width="0.9"/>
<path d="M339.1 135.5L341.3 138.0L339.1 140.4L336.9 138.0Z" fill="#fff" stroke="#000" stroke-width="0.9"/>
<path d="M352.4 130.1L354.6 132.5L352.4 135.0L350.2 132.5Z" fill="#fff" stroke="#000" stroke-width="0.9"/>
<path d="M365.6 126.5L367.8 128.9L365.6 131.3L363.4 128.9Z" fill="#fff" stroke="#000" stroke-width="0.9"/>
<path d="M378.9 122.9L381.1 125.3L378.9 127.7L376.7 125.3Z" fill="#fff" stroke="#000" stroke-width="0.9"/>
<path d="M392.1 115.7L394.3 118.1L392.1 120.5L389.9 118.1Z" fill="#fff" stroke="#000" stroke-width="0.9"/>
<path d="M405.3 111.2L407.5 113.6L405.3 116.0L403.1 113.6Z" fill="#fff" stroke="#000" stroke-width="0.9"/>
<path d="M418.6 98.5L420.8 100.9L418.6 103.3L416.4 100.9Z" fill="#fff" stroke="#000" stroke-width="0.9"/>
<path d="M431.8 90.4L434.0 92.8L431.8 95.2L429.6 92.8Z" fill="#fff" stroke="#000" stroke-width="0.9"/>
<path d="M445.1 84.1L447.3 86.5L445.1 88.9L442.9 86.5Z" fill="#fff" stroke="#000" stroke-width="0.9"/>
<path d="M458.3 80.5L460.5 82.9L458.3 85.3L456.1 82.9Z" fill="#fff" stroke="#000" stroke-width="0.9"/>
<path d="M471.5 77.7L473.7 80.2L471.5 82.6L469.3 80.2Z" fill="#fff" stroke="#000" stroke-width="0.9"/>
<path d="M484.8 75.0L487.0 77.5L484.8 79.9L482.6 77.5Z" fill="#fff" stroke="#000" stroke-width="0.9"/>
<path d="M498.0 63.3L500.2 65.7L498.0 68.1L495.8 65.7Z" fill="#fff" stroke="#000" stroke-width="0.9"/>
<path d="M511.3 58.8L513.5 61.2L511.3 63.6L509.1 61.2Z" fill="#fff" stroke="#000" stroke-width="0.9"/>
<path d="M325.9 149.3L328.2 153.3L323.6 153.3Z" fill="#000"/>
<path d="M339.1 132.1L341.4 136.1L336.8 136.1Z" fill="#000"/>
<path d="M352.4 115.0L354.7 119.0L350.1 119.0Z" fill="#000"/>
<path d="M365.6 108.7L367.9 112.7L363.3 112.7Z" fill="#000"/>
<path d="M378.9 106.9L381.2 110.8L376.5 110.8Z" fill="#000"/>
<path d="M392.1 99.6L394.4 103.6L389.8 103.6Z" fill="#000"/>
<path d="M405.3 90.6L407.6 94.6L403.0 94.6Z" fill="#000"/>
<path d="M418.6 80.7L420.9 84.7L416.3 84.7Z" fill="#000"/>
<path d="M431.8 70.7L434.1 74.7L429.5 74.7Z" fill="#000"/>
<path d="M445.1 65.3L447.4 69.3L442.7 69.3Z" fill="#000"/>
<path d="M458.3 56.3L460.6 60.3L456.0 60.3Z" fill="#000"/>
<path d="M471.5 54.5L473.8 58.5L469.2 58.5Z" fill="#000"/>
<path d="M484.8 49.1L487.1 53.1L482.5 53.1Z" fill="#000"/>
<path d="M498.0 47.3L500.3 51.2L495.7 51.2Z" fill="#000"/>
<path d="M511.3 44.5L513.6 48.5L508.9 48.5Z" fill="#000"/>
<path d="M325.9 149.1L328.1 151.5L325.9 153.9L323.7 151.5Z" fill="#000"/>
<path d="M339.1 132.8L341.3 135.2L339.1 137.7L336.9 135.2Z" fill="#000"/>
<path d="M352.4 127.4L354.6 129.8L352.4 132.2L350.2 129.8Z" fill="#000"/>
<path d="M365.6 122.0L367.8 124.4L365.6 126.8L363.4 124.4Z" fill="#000"/>
<path d="M378.9 118.4L381.1 120.8L378.9 123.2L376.7 120.8Z" fill="#000"/>
<path d="M392.1 111.2L394.3 113.6L392.1 116.0L389.9 113.6Z" fill="#000"/>
<path d="M405.3 103.9L407.5 106.3L405.3 108.8L403.1 106.3Z" fill="#000"/>
<path d="M418.6 93.1L420.8 95.5L418.6 97.9L416.4 95.5Z" fill="#000"/>
<path d="M431.8 87.7L434.0 90.1L431.8 92.5L429.6 90.1Z" fill="#000"/>
<path d="M445.1 82.3L447.3 84.7L445.1 87.1L442.9 84.7Z" fill="#000"/>
<path d="M458.3 80.5L460.5 82.9L458.3 85.3L456.1 82.9Z" fill="#000"/>
<path d="M471.5 76.8L473.7 79.3L471.5 81.7L469.3 79.3Z" fill="#000"/>
<path d="M484.8 75.0L487.0 77.5L484.8 79.9L482.6 77.5Z" fill="#000"/>
<path d="M498.0 71.4L500.2 73.8L498.0 76.3L495.8 73.8Z" fill="#000"/>
<path d="M511.3 68.7L513.5 71.1L511.3 73.5L509.1 71.1Z" fill="#000"/>
<rect x="324.1" y="149.7" width="3.6" height="3.6" fill="#000"/>
<rect x="337.4" y="134.4" width="3.6" height="3.6" fill="#000"/>
<rect x="350.6" y="113.6" width="3.6" height="3.6" fill="#000"/>
<rect x="363.8" y="108.2" width="3.6" height="3.6" fill="#000"/>
<rect x="377.1" y="106.4" width="3.6" height="3.6" fill="#000"/>
<rect x="390.3" y="98.2" width="3.6" height="3.6" fill="#000"/>
<rect x="403.6" y="90.1" width="3.6" height="3.6" fill="#000"/>
<rect x="416.8" y="79.3" width="3.6" height="3.6" fill="#000"/>
<rect x="430.0" y="70.3" width="3.6" height="3.6" fill="#000"/>
<rect x="443.3" y="66.6" width="3.6" height="3.6" fill="#000"/>
<rect x="456.5" y="58.5" width="3.6" height="3.6" fill="#000"/>
<rect x="469.8" y="54.0" width="3.6" height="3.6" fill="#000"/>
<rect x="483.0" y="50.4" width="3.6" height="3.6" fill="#000"/>
<rect x="496.2" y="48.6" width="3.6" height="3.6" fill="#000"/>
<rect x="509.5" y="46.8" width="3.6" height="3.6" fill="#000"/>
<text transform="translate(289.6,150.2) rotate(-90)" class="yl">% Body weight change</text>
<text x="365.2" y="188.7" class="wt" textLength="109.5" lengthAdjust="spacingAndGlyphs">weeks after DLI</text>
<rect x="5.8" y="203.4" width="246" height="178.1" fill="none" stroke="#484848" stroke-width="1.4"/>
<path d="M24.3 221.2 H41.2" stroke="#000" stroke-width="1"/>
<path d="M32.7 216.3L37.2 221.2L32.7 226.1L28.2 221.2Z" fill="#000"/>
<text x="138.2" y="224.6" text-anchor="end" class="bx">30 x 10<tspan class="sup" dy="-3.4">6</tspan><tspan dy="3.4"> splenocytes</tspan></text>
<path d="M24.3 242.0 H41.2" stroke="#000" stroke-width="1"/>
<rect x="28.0" y="238.6" width="6.8" height="6.8" fill="#000"/>
<text x="138.2" y="245.4" text-anchor="end" class="bx">15 x 10<tspan class="sup" dy="-3.4">6</tspan><tspan dy="3.4"> splenocytes</tspan></text>
<path d="M24.3 260.2 H41.2" stroke="#000" stroke-width="1"/>
<path d="M32.9 256.0L37.3 263.6L28.5 263.6Z" fill="#000"/>
<text x="138.2" y="263.6" text-anchor="end" class="bx">5 x 10<tspan class="sup" dy="-3.4">6</tspan><tspan dy="3.4"> splenocytes</tspan></text>
<path d="M24.3 280.4 H41.2" stroke="#000" stroke-width="1"/>
<path d="M32.8 275.7L37.1 280.4L32.8 285.1L28.5 280.4Z" fill="none" stroke="#000" stroke-width="0.9"/>
<text x="138.2" y="283.8" text-anchor="end" class="bx">30 x 10<tspan class="sup" dy="-3.4">6</tspan><tspan dy="3.4"> splenocytes</tspan></text>
<path d="M24.3 301.4 H41.2" stroke="#000" stroke-width="1"/>
<rect x="28.3" y="298.3" width="6.1" height="6.1" fill="none" stroke="#000" stroke-width="0.9"/>
<text x="138.2" y="304.8" text-anchor="end" class="bx">15 x 10<tspan class="sup" dy="-3.4">6</tspan><tspan dy="3.4"> splenocytes</tspan></text>
<path d="M24.3 319.8 H41.2" stroke="#000" stroke-width="1"/>
<path d="M32.5 315.8L36.7 323.0L28.3 323.0Z" fill="none" stroke="#000" stroke-width="0.9"/>
<text x="138.2" y="323.2" text-anchor="end" class="bx">5 x 10<tspan class="sup" dy="-3.4">6</tspan><tspan dy="3.4"> splenocytes</tspan></text>
<path d="M24.3 342.5 H41.2" stroke="#000" stroke-width="1"/>
<path d="M27.6 338.5L35.6 346.5M35.6 338.5L27.6 346.5" stroke="#000" stroke-width="0.9" fill="none"/>
<text x="89.3" y="345.3" text-anchor="middle" class="bx">PBS</text>
<path d="M24.3 362.5 H41.2" stroke="#000" stroke-width="1"/>
<circle cx="31.6" cy="362.5" r="3.2" fill="none" stroke="#000" stroke-width="0.9"/>
<text x="138.2" y="365.9" text-anchor="end" class="bx">30 x 10<tspan class="sup" dy="-3.4">6</tspan><tspan dy="3.4"> splenocytes</tspan></text>
<path d="M146.1 220.8 Q147.6 220.8 147.6 222.8 V238.8 Q147.6 240.8 149.1 240.8 Q147.6 240.8 147.6 242.8 V258.8 Q147.6 260.8 146.1 260.8" fill="none" stroke="#000" stroke-width="1.1"/>
<path d="M146.1 280.7 Q147.6 280.7 147.6 282.7 V310.5 Q147.6 312.5 149.1 312.5 Q147.6 312.5 147.6 314.5 V342.3 Q147.6 344.3 146.1 344.3" fill="none" stroke="#000" stroke-width="1.1"/>
<text x="195.2" y="244.2" text-anchor="middle" class="bx">Chimerism &lt; 10%</text>
<text x="195.2" y="315" text-anchor="middle" class="bx">Chimerism &gt; 10%</text>
<text x="194.7" y="365.4" text-anchor="middle" class="bx">Naive mice</text>
<text transform="translate(264.2 210.5) scale(1.0 1.11)" class="pc">C</text>
<clipPath id="cs"><rect x="286.8" y="196.9" width="112.0" height="81.3"/></clipPath><g clip-path="url(#cs)"><rect x="286.8" y="196.9" width="112.0" height="81.3" fill="#f5ebf8"/><rect x="286.8" y="204.9" width="112.0" height="73.3" filter="url(#nK)" opacity="1.0"/><path d="M286 217 Q320 215 345 219 T400 221" stroke="#dcc6ee" stroke-width="2.2" fill="none"/><path d="M286 234 Q320 232 350 235 T400 236" stroke="#dbc3ec" stroke-width="2" fill="none"/><path d="M286 251 Q315 249 345 252 T400 254" stroke="#d8c0ea" stroke-width="2.2" fill="none"/><path d="M286 226 Q310 224 330 226" stroke="#e2d0f0" stroke-width="1.5" fill="none"/><path d="M290 244 Q300 247 320 249" stroke="#d9c3ec" stroke-width="1.5" fill="none"/><path d="M286 219 Q300 216 315 219 T345 221 T375 223 T400 222" stroke="#c8aee8" stroke-width="0.8" fill="none"/><path d="M286 247 Q305 245 320 248 T350 250 T399 250" stroke="#c8aee8" stroke-width="0.8" fill="none"/><path d="M290 256 Q310 253 330 256 T370 257 T399 256" stroke="#c8aee8" stroke-width="0.8" fill="none"/><path d="M286 211 Q300 209 312 212" stroke="#c8aee8" stroke-width="0.8" fill="none"/><path d="M340 222 Q360 219 380 222 T400 221" stroke="#c8aee8" stroke-width="0.8" fill="none"/><path d="M323 196 L323 197.5 L326.5 199.8 L331.2 203.2 L335.8 205 L340.4 205.3 L344.6 206.7 L349.2 205.5 L353.8 203.8 L358.5 203.2 L363 202.7 L367.7 205 L372.3 207.3 L377 210.2 L380.4 211.3 L385 207.8 L390.8 203.8 L397.7 200.3 L400 199.5 L400 196 Z" fill="#fbf8fc"/><path d="M286.0 204.3 C287.4 204.5 291.7 204.9 294.2 205.4 C296.7 205.9 298.9 206.8 301.2 207.2 C303.5 207.6 305.7 207.7 308.0 207.7 C310.3 207.7 312.7 207.5 315.0 207.2 C317.3 206.9 320.1 206.0 322.0 206.0 C323.9 206.0 325.2 206.4 326.5 207.2 C327.8 208.0 328.6 209.7 330.0 210.6 C331.4 211.5 332.9 212.1 334.6 212.4 C336.3 212.7 338.7 212.0 340.4 212.2 C342.1 212.4 343.1 213.6 344.6 213.5 C346.1 213.4 347.7 212.3 349.2 211.8 C350.7 211.3 351.5 211.0 353.8 210.6 C356.1 210.2 360.3 209.2 363.0 209.5 C365.7 209.8 368.1 211.4 370.0 212.4 C371.9 213.3 373.1 214.3 374.6 215.2 C376.1 216.0 377.7 217.3 379.2 217.5 C380.7 217.7 382.1 217.2 383.8 216.4 C385.5 215.5 387.3 213.6 389.6 212.4 C391.9 211.1 396.0 209.6 397.7 208.9 C399.4 208.2 399.6 208.3 400.0 208.2" stroke="#d2b8ee" stroke-width="2.6" fill="none"/><path d="M286.0 196.9 C287.8 196.9 294.2 196.7 296.5 196.9 C298.8 197.1 298.6 197.5 300.0 198.0 C301.4 198.5 303.1 199.6 304.6 199.8 C306.1 200.0 307.5 199.6 309.2 199.2 C310.9 198.8 312.7 197.8 315.0 197.5 C317.3 197.2 321.1 197.1 323.0 197.5 C324.9 197.9 325.1 198.9 326.5 199.8 C327.9 200.8 329.6 202.3 331.2 203.2 C332.8 204.1 334.3 204.7 335.8 205.0 C337.3 205.3 338.9 205.0 340.4 205.3 C341.9 205.6 343.1 206.7 344.6 206.7 C346.1 206.7 347.7 206.0 349.2 205.5 C350.7 205.0 352.2 204.2 353.8 203.8 C355.4 203.4 357.0 203.4 358.5 203.2 C360.0 203.0 361.5 202.4 363.0 202.7 C364.5 203.0 366.1 204.2 367.7 205.0 C369.2 205.8 370.8 206.4 372.3 207.3 C373.9 208.2 375.6 209.5 377.0 210.2 C378.4 210.9 379.1 211.7 380.4 211.3 C381.7 210.9 383.3 209.1 385.0 207.8 C386.7 206.6 388.7 205.1 390.8 203.8 C392.9 202.6 396.2 201.0 397.7 200.3 C399.2 199.6 399.6 199.6 400.0 199.5 L400 206 C399.6 206.1 399.4 206.0 397.7 206.7 C396.0 207.4 391.9 208.9 389.6 210.2 C387.3 211.4 385.5 213.3 383.8 214.2 C382.1 215.0 380.7 215.5 379.2 215.3 C377.7 215.1 376.1 213.8 374.6 213.0 C373.1 212.2 371.9 211.1 370.0 210.2 C368.1 209.2 365.7 207.6 363.0 207.3 C360.3 207.0 356.1 208.0 353.8 208.4 C351.5 208.8 350.7 209.1 349.2 209.6 C347.7 210.1 346.1 211.2 344.6 211.3 C343.1 211.4 342.1 210.2 340.4 210.0 C338.7 209.8 336.3 210.5 334.6 210.2 C332.9 209.9 331.4 209.3 330.0 208.4 C328.6 207.5 327.8 205.8 326.5 205.0 C325.2 204.2 323.9 203.8 322.0 203.8 C320.1 203.8 317.3 204.7 315.0 205.0 C312.7 205.3 310.3 205.5 308.0 205.5 C305.7 205.5 303.5 205.4 301.2 205.0 C298.9 204.6 296.7 203.7 294.2 203.2 C291.7 202.7 287.4 202.3 286.0 202.1 Z" fill="#9068d8"/><path d="M286.0 197.9 C287.8 197.9 294.2 197.7 296.5 197.9 C298.8 198.1 298.6 198.5 300.0 199.0 C301.4 199.5 303.1 200.6 304.6 200.8 C306.1 201.0 307.5 200.6 309.2 200.2 C310.9 199.8 312.7 198.8 315.0 198.5 C317.3 198.2 321.1 198.1 323.0 198.5 C324.9 198.9 325.1 199.9 326.5 200.8 C327.9 201.8 329.6 203.3 331.2 204.2 C332.8 205.1 334.3 205.7 335.8 206.0 C337.3 206.3 338.9 206.0 340.4 206.3 C341.9 206.6 343.1 207.7 344.6 207.7 C346.1 207.7 347.7 207.0 349.2 206.5 C350.7 206.0 352.2 205.2 353.8 204.8 C355.4 204.4 357.0 204.4 358.5 204.2 C360.0 204.0 361.5 203.4 363.0 203.7 C364.5 204.0 366.1 205.2 367.7 206.0 C369.2 206.8 370.8 207.4 372.3 208.3 C373.9 209.2 375.6 210.5 377.0 211.2 C378.4 211.9 379.1 212.7 380.4 212.3 C381.7 211.9 383.3 210.1 385.0 208.8 C386.7 207.6 388.7 206.1 390.8 204.8 C392.9 203.6 396.2 202.0 397.7 201.3 C399.2 200.6 399.6 200.6 400.0 200.5" stroke="#a88ae2" stroke-width="1.0" fill="none"/><path d="M364 200.3 L371 200.3 L378 204.4 M386 204.3 Q392 201 397.5 198.5" stroke="#a486de" stroke-width="1" fill="none"/><ellipse cx="319" cy="214.5" rx="4" ry="4" fill="none" stroke="#b08ae0" stroke-width="1.3"/><ellipse cx="326" cy="213" rx="3.5" ry="3.5" fill="#c0a0e6" stroke="#9a74da" stroke-width="1.1"/><ellipse cx="331" cy="217" rx="3" ry="2.5" fill="none" stroke="#b08ae0" stroke-width="1"/><ellipse cx="363" cy="228.5" rx="4.5" ry="3" fill="#fbf7fd" stroke="#cfb6ea" stroke-width="0.7"/><ellipse cx="373" cy="229" rx="4" ry="3" fill="#fbf7fd" stroke="#cfb6ea" stroke-width="0.7"/><ellipse cx="384" cy="228" rx="4.5" ry="3.2" fill="#fbf7fd" stroke="#cfb6ea" stroke-width="0.7"/><ellipse cx="394" cy="227.5" rx="4" ry="3" fill="#fbf7fd" stroke="#cfb6ea" stroke-width="0.7"/><ellipse cx="340" cy="228.5" rx="3.5" ry="2.5" fill="#fbf7fd" stroke="#cfb6ea" stroke-width="0.7"/><ellipse cx="298" cy="229" rx="4" ry="2.2" fill="#fbf7fd" stroke="#cfb6ea" stroke-width="0.7"/><ellipse cx="312" cy="228" rx="3" ry="2" fill="#fbf7fd" stroke="#cfb6ea" stroke-width="0.7"/><ellipse cx="308" cy="239" rx="5.5" ry="2.5" transform="rotate(12 308 239)" fill="#bc56ca"/><ellipse cx="318.5" cy="239.8" rx="5" ry="2.4" transform="rotate(15 318.5 239.8)" fill="#bf5acb"/><ellipse cx="322" cy="243.5" rx="5.5" ry="2.2" transform="rotate(10 322 243.5)" fill="#c466cd"/><ellipse cx="336" cy="244" rx="7.5" ry="2.8" transform="rotate(14 336 244)" fill="#b84ec7"/><ellipse cx="344" cy="245.8" rx="7" ry="2.5" transform="rotate(8 344 245.8)" fill="#bb52c8"/><ellipse cx="354" cy="244.5" rx="8" ry="2.6" transform="rotate(5 354 244.5)" fill="#be56c9"/><ellipse cx="380" cy="244.6" rx="8" ry="2.1" transform="rotate(-4 380 244.6)" fill="#c262cb"/><ellipse cx="391" cy="241.2" rx="7" ry="2.3" transform="rotate(-10 391 241.2)" fill="#bc58ca"/><ellipse cx="398" cy="239.5" rx="3" ry="2" transform="rotate(-10 398 239.5)" fill="#c46acd"/><ellipse cx="366" cy="245" rx="4.5" ry="1.9" transform="rotate(0 366 245)" fill="#c87ad0"/><ellipse cx="301" cy="237.5" rx="2.5" ry="1.8" transform="rotate(10 301 237.5)" fill="#c876cd"/><ellipse cx="328" cy="240.5" rx="3" ry="1.6" transform="rotate(15 328 240.5)" fill="#cc84d4"/><ellipse cx="371" cy="243.5" rx="3" ry="1.5" transform="rotate(0 371 243.5)" fill="#cc86d4"/><path d="M384 234.5 L400 233.5" stroke="#c8b0ec" stroke-width="2" fill="none"/><path d="M286 250 Q330 251 399 252 L399 254 Q330 254 286 253 Z" fill="#faf5fc"/><path d="M286 255 Q320 258 345 262 Q370 262 399 259 L399 266 Q370 268 345 269.5 Q320 268 286 261 Z" fill="#d9b2e6"/><ellipse cx="312" cy="258" rx="5" ry="3" fill="#cbaeea" stroke="#b08ae0" stroke-width="0.8"/><ellipse cx="360" cy="261" rx="5" ry="3.8" fill="#a078d8"/><ellipse cx="366" cy="264" rx="3" ry="2" fill="#c9a6e6"/><ellipse cx="380" cy="259.5" rx="3.5" ry="4" fill="#9a70d6"/><path d="M286.0 259.0 C290.0 259.6 303.5 261.5 310.0 262.7 C316.5 263.9 319.2 265.0 325.0 266.0 C330.8 267.0 338.7 268.5 345.0 268.8 C351.3 269.1 356.2 268.1 363.0 267.7 C369.8 267.3 380.0 267.1 386.0 266.5 C392.0 265.9 396.8 263.6 399.0 264.2 C401.2 264.8 400.2 268.6 399.0 270.0 C397.8 271.4 395.2 271.4 392.0 272.3 C388.8 273.2 384.8 274.4 380.0 275.2 C375.2 276.0 368.8 276.6 363.0 277.0 C357.2 277.4 351.3 278.3 345.0 277.5 C338.7 276.7 330.8 273.3 325.0 272.0 C319.2 270.7 316.5 270.7 310.0 269.7 C303.5 268.7 290.0 266.6 286.0 266.0" fill="#9264d4"/><path d="M286.0 259.0 C290.0 259.6 303.5 261.5 310.0 262.7 C316.5 263.9 319.2 265.0 325.0 266.0 C330.8 267.0 338.7 268.5 345.0 268.8 C351.3 269.1 356.2 268.1 363.0 267.7 C369.8 267.3 380.0 267.1 386.0 266.5 C392.0 265.9 396.8 264.6 399.0 264.2" stroke="#c08ade" stroke-width="1.6" fill="none"/><path d="M286 266 L310 269.7 L325 272 L345 277.5 L363 277 L380 275.2 L392 272.3 L399 270 L399 279 L286 279 Z" fill="#fbf7fc"/><path d="M290 268 L292 277" stroke="#c5a8e6" stroke-width="1"/></g>
<clipPath id="cl"><rect x="402.8" y="196.8" width="112.0" height="81.6"/></clipPath><g clip-path="url(#cl)"><rect x="402.8" y="196.8" width="112.0" height="81.6" fill="#a882e8"/><rect x="402.8" y="196.8" width="112.0" height="81.6" filter="url(#nL)" opacity="1.0"/><rect x="402.8" y="196.8" width="112.0" height="81.6" filter="url(#nD)" opacity="1.0"/><circle cx="472.6" cy="257.3" r="0.7" fill="#e6cff6"/><circle cx="485.7" cy="272.1" r="0.7" fill="#f3e6fb"/><circle cx="489.7" cy="217.1" r="0.7" fill="#f3e6fb"/><circle cx="415.5" cy="235.1" r="0.5" fill="#f3e6fb"/><circle cx="414.2" cy="217.1" r="0.4" fill="#e6cff6"/><circle cx="434.1" cy="271.6" r="0.4" fill="#f8eefd"/><circle cx="492.1" cy="208.1" r="0.5" fill="#e6cff6"/><circle cx="417.6" cy="276.1" r="0.4" fill="#f3e6fb"/><circle cx="426.9" cy="277.0" r="0.5" fill="#f3e6fb"/><circle cx="510.5" cy="240.8" r="0.6" fill="#e6cff6"/><circle cx="423.1" cy="275.8" r="0.7" fill="#f3e6fb"/><circle cx="502.9" cy="221.2" r="0.5" fill="#f8eefd"/><circle cx="507.6" cy="218.3" r="0.5" fill="#f8eefd"/><circle cx="470.3" cy="197.1" r="0.6" fill="#e6cff6"/><circle cx="410.2" cy="225.8" r="0.5" fill="#f8eefd"/><circle cx="438.2" cy="236.1" r="0.4" fill="#e6cff6"/><circle cx="431.5" cy="273.4" r="0.5" fill="#e6cff6"/><circle cx="448.1" cy="241.6" r="0.5" fill="#f8eefd"/><circle cx="467.6" cy="197.5" r="0.6" fill="#f3e6fb"/><circle cx="472.7" cy="274.7" r="0.7" fill="#f3e6fb"/><circle cx="506.9" cy="273.7" r="0.6" fill="#f8eefd"/><circle cx="502.8" cy="217.3" r="0.4" fill="#f8eefd"/><circle cx="486.6" cy="261.9" r="0.4" fill="#f8eefd"/><circle cx="508.7" cy="204.2" r="0.6" fill="#f8eefd"/><circle cx="443.4" cy="208.9" r="0.7" fill="#f8eefd"/><circle cx="463.9" cy="222.3" r="0.5" fill="#f8eefd"/><circle cx="492.3" cy="247.9" r="0.6" fill="#e6cff6"/><circle cx="514.4" cy="210.0" r="0.4" fill="#f3e6fb"/><circle cx="470.1" cy="272.2" r="0.4" fill="#f3e6fb"/><circle cx="469.3" cy="264.2" r="0.6" fill="#f8eefd"/><circle cx="419.1" cy="276.7" r="0.4" fill="#e6cff6"/><circle cx="458.1" cy="265.2" r="0.7" fill="#f3e6fb"/><circle cx="466.0" cy="207.6" r="0.4" fill="#f8eefd"/><circle cx="451.5" cy="209.0" r="0.5" fill="#f8eefd"/><circle cx="453.6" cy="278.3" r="0.7" fill="#f3e6fb"/><circle cx="453.6" cy="236.6" r="0.5" fill="#e6cff6"/><circle cx="433.5" cy="235.2" r="0.4" fill="#f3e6fb"/><circle cx="494.9" cy="240.2" r="0.6" fill="#f3e6fb"/><circle cx="458.7" cy="224.4" r="0.5" fill="#f3e6fb"/><circle cx="460.5" cy="241.5" r="0.5" fill="#e6cff6"/><circle cx="490.8" cy="260.0" r="0.6" fill="#e6cff6"/><circle cx="406.6" cy="221.7" r="0.6" fill="#e6cff6"/><circle cx="434.3" cy="236.4" r="0.6" fill="#e6cff6"/><circle cx="510.0" cy="224.5" r="0.6" fill="#f3e6fb"/><circle cx="404.1" cy="241.4" r="0.5" fill="#f8eefd"/><circle cx="433.5" cy="220.4" r="0.6" fill="#e6cff6"/><circle cx="492.1" cy="225.2" r="0.5" fill="#e6cff6"/><circle cx="507.8" cy="230.1" r="0.7" fill="#f3e6fb"/><circle cx="479.9" cy="276.5" r="0.6" fill="#f8eefd"/><circle cx="462.1" cy="210.4" r="0.7" fill="#f8eefd"/><circle cx="456.3" cy="253.2" r="0.6" fill="#e6cff6"/><circle cx="449.5" cy="247.1" r="0.6" fill="#e6cff6"/><circle cx="507.7" cy="221.5" r="0.7" fill="#e6cff6"/><circle cx="474.1" cy="255.6" r="0.4" fill="#f3e6fb"/><circle cx="468.5" cy="247.7" r="0.4" fill="#f3e6fb"/><circle cx="479.6" cy="248.3" r="0.7" fill="#f3e6fb"/><circle cx="512.5" cy="210.3" r="0.4" fill="#f3e6fb"/><circle cx="511.2" cy="236.2" r="0.4" fill="#e6cff6"/><circle cx="454.9" cy="227.8" r="0.4" fill="#e6cff6"/><circle cx="425.7" cy="255.4" r="0.4" fill="#f8eefd"/><circle cx="448.2" cy="219.5" r="0.7" fill="#f8eefd"/><circle cx="480.0" cy="241.5" r="0.6" fill="#f3e6fb"/><circle cx="436.6" cy="220.9" r="0.5" fill="#e6cff6"/><circle cx="467.9" cy="275.0" r="0.5" fill="#f3e6fb"/><circle cx="493.9" cy="249.2" r="0.5" fill="#f8eefd"/><circle cx="420.4" cy="228.0" r="0.7" fill="#f8eefd"/><circle cx="511.2" cy="246.5" r="0.7" fill="#f8eefd"/><circle cx="476.9" cy="228.0" r="0.6" fill="#f8eefd"/><circle cx="471.7" cy="208.3" r="0.7" fill="#e6cff6"/><circle cx="466.0" cy="231.8" r="0.5" fill="#f3e6fb"/><circle cx="456.5" cy="254.6" r="0.7" fill="#f8eefd"/><circle cx="505.1" cy="245.4" r="0.6" fill="#f8eefd"/><circle cx="436.5" cy="217.3" r="0.5" fill="#f3e6fb"/><circle cx="513.0" cy="236.9" r="0.4" fill="#f8eefd"/><circle cx="405.5" cy="250.7" r="0.4" fill="#f8eefd"/><circle cx="407.3" cy="207.9" r="0.4" fill="#f8eefd"/><circle cx="462.4" cy="219.1" r="0.7" fill="#f8eefd"/><circle cx="430.3" cy="218.6" r="0.6" fill="#f3e6fb"/><circle cx="434.8" cy="237.0" r="0.6" fill="#f8eefd"/><circle cx="499.5" cy="268.7" r="0.4" fill="#f3e6fb"/><circle cx="416.9" cy="219.8" r="0.5" fill="#e6cff6"/><circle cx="436.0" cy="240.0" r="0.5" fill="#f8eefd"/><circle cx="479.2" cy="263.1" r="0.4" fill="#f3e6fb"/><circle cx="431.1" cy="234.0" r="0.7" fill="#f3e6fb"/><circle cx="463.9" cy="198.0" r="0.6" fill="#f8eefd"/><circle cx="480.0" cy="274.6" r="0.5" fill="#e6cff6"/><circle cx="504.9" cy="228.3" r="0.6" fill="#f8eefd"/><circle cx="483.4" cy="270.2" r="0.7" fill="#f8eefd"/><circle cx="410.2" cy="265.0" r="0.7" fill="#e6cff6"/><circle cx="468.0" cy="249.7" r="0.7" fill="#f8eefd"/><circle cx="418.8" cy="235.8" r="0.7" fill="#e6cff6"/><circle cx="511.8" cy="240.7" r="0.6" fill="#f8eefd"/><circle cx="493.7" cy="202.4" r="0.5" fill="#f3e6fb"/><circle cx="412.3" cy="201.9" r="0.5" fill="#f3e6fb"/><circle cx="450.9" cy="202.4" r="0.6" fill="#f8eefd"/><circle cx="408.3" cy="265.5" r="0.6" fill="#f3e6fb"/><circle cx="495.1" cy="205.9" r="0.7" fill="#f3e6fb"/><circle cx="481.8" cy="232.5" r="0.6" fill="#f3e6fb"/><circle cx="449.2" cy="210.0" r="0.4" fill="#e6cff6"/><circle cx="465.0" cy="250.7" r="0.4" fill="#e6cff6"/><circle cx="409.2" cy="243.7" r="0.5" fill="#e6cff6"/><circle cx="472.7" cy="197.6" r="0.5" fill="#f3e6fb"/><circle cx="470.0" cy="236.7" r="0.5" fill="#e6cff6"/><circle cx="409.0" cy="253.7" r="0.6" fill="#f3e6fb"/><circle cx="478.7" cy="220.5" r="0.6" fill="#e6cff6"/><circle cx="427.5" cy="202.0" r="0.5" fill="#f3e6fb"/><circle cx="486.9" cy="239.0" r="0.7" fill="#f3e6fb"/><circle cx="499.5" cy="233.8" r="0.4" fill="#f8eefd"/><circle cx="482.7" cy="250.2" r="0.6" fill="#f3e6fb"/><circle cx="406.8" cy="267.3" r="0.6" fill="#e6cff6"/><circle cx="429.5" cy="268.4" r="0.7" fill="#f8eefd"/><circle cx="414.8" cy="240.1" r="0.6" fill="#e6cff6"/><circle cx="408.8" cy="209.1" r="0.6" fill="#f8eefd"/><circle cx="427.8" cy="206.3" r="0.5" fill="#e6cff6"/><circle cx="426.5" cy="254.0" r="0.5" fill="#f8eefd"/><circle cx="429.1" cy="224.0" r="0.6" fill="#e6cff6"/><circle cx="492.0" cy="227.7" r="0.7" fill="#e6cff6"/><circle cx="475.4" cy="262.4" r="0.7" fill="#f8eefd"/><circle cx="443.4" cy="199.8" r="0.4" fill="#e6cff6"/><circle cx="423.0" cy="202.0" r="0.4" fill="#f3e6fb"/><circle cx="425.5" cy="200.0" r="0.6" fill="#f8eefd"/><circle cx="441.8" cy="231.6" r="0.7" fill="#f8eefd"/><circle cx="472.2" cy="231.8" r="0.5" fill="#f8eefd"/><circle cx="424.3" cy="250.1" r="0.5" fill="#f3e6fb"/><circle cx="446.0" cy="268.6" r="0.6" fill="#f3e6fb"/><circle cx="415.1" cy="263.6" r="0.6" fill="#f8eefd"/><circle cx="406.5" cy="269.9" r="0.7" fill="#f8eefd"/><circle cx="444.1" cy="273.3" r="0.4" fill="#e6cff6"/><circle cx="453.9" cy="266.1" r="0.4" fill="#f3e6fb"/><circle cx="477.7" cy="220.6" r="0.4" fill="#e6cff6"/><circle cx="514.1" cy="199.5" r="0.4" fill="#e6cff6"/><circle cx="428.6" cy="203.2" r="0.7" fill="#f8eefd"/><circle cx="482.0" cy="252.3" r="0.5" fill="#f3e6fb"/><circle cx="434.5" cy="256.6" r="0.5" fill="#e6cff6"/><circle cx="489.7" cy="211.1" r="0.7" fill="#f3e6fb"/><circle cx="475.1" cy="231.9" r="0.4" fill="#f8eefd"/><circle cx="409.6" cy="260.4" r="0.4" fill="#f8eefd"/><circle cx="406.5" cy="265.0" r="0.6" fill="#e6cff6"/><circle cx="508.0" cy="255.3" r="0.7" fill="#f3e6fb"/><circle cx="457.8" cy="273.2" r="0.6" fill="#f3e6fb"/><circle cx="475.0" cy="237.4" r="0.4" fill="#f3e6fb"/><circle cx="496.1" cy="233.2" r="0.4" fill="#e6cff6"/><circle cx="407.0" cy="276.1" r="0.6" fill="#f3e6fb"/><circle cx="474.5" cy="212.1" r="0.4" fill="#f3e6fb"/><circle cx="438.0" cy="205.6" r="0.7" fill="#e6cff6"/><circle cx="420.9" cy="203.0" r="0.4" fill="#e6cff6"/><circle cx="404.7" cy="240.8" r="0.5" fill="#f8eefd"/><circle cx="488.8" cy="239.4" r="0.6" fill="#f3e6fb"/><circle cx="505.1" cy="221.9" r="0.7" fill="#f8eefd"/><circle cx="514.8" cy="242.0" r="0.5" fill="#f3e6fb"/><circle cx="412.6" cy="259.8" r="0.5" fill="#f8eefd"/><circle cx="417.3" cy="203.5" r="0.6" fill="#f3e6fb"/><circle cx="492.3" cy="275.8" r="0.4" fill="#e6cff6"/><circle cx="409.7" cy="254.0" r="0.6" fill="#f3e6fb"/><circle cx="492.0" cy="268.8" r="0.4" fill="#f3e6fb"/><circle cx="489.0" cy="227.8" r="0.4" fill="#e6cff6"/><circle cx="434.8" cy="273.5" r="0.6" fill="#f3e6fb"/><circle cx="452.3" cy="263.5" r="0.7" fill="#e6cff6"/><circle cx="404.9" cy="200.7" r="0.5" fill="#f8eefd"/><circle cx="493.8" cy="228.0" r="0.5" fill="#f3e6fb"/><circle cx="437.1" cy="208.0" r="0.6" fill="#f8eefd"/><circle cx="434.8" cy="202.0" r="0.6" fill="#e6cff6"/><circle cx="405.9" cy="200.9" r="0.7" fill="#f3e6fb"/><circle cx="451.6" cy="217.9" r="0.4" fill="#e6cff6"/><circle cx="461.9" cy="207.0" r="0.5" fill="#f3e6fb"/><circle cx="404.2" cy="244.5" r="0.6" fill="#f3e6fb"/><circle cx="413.5" cy="240.1" r="0.6" fill="#f3e6fb"/><circle cx="418.9" cy="259.2" r="0.7" fill="#f8eefd"/><circle cx="416.0" cy="222.7" r="0.5" fill="#f3e6fb"/><circle cx="451.4" cy="232.8" r="0.7" fill="#e6cff6"/><path d="M443.8 196 V279" stroke="#bca0f2" stroke-width="0.8"/><path d="M401 235.1 L412.7 236.2 L421.2 235.1 L426.4 233 L431.7 233.6 L434.5 235.5 L434 236.5 L429.6 238.3 L423.3 240 L419 242.5 L412.7 243.6 L401 244.6 Z" fill="#f8f5fd" stroke="#f8f5fd" stroke-width="0.8" stroke-linejoin="round"/><path d="M433 236 Q438 237.5 445 238.5" stroke="#cbbaf2" stroke-width="1.4" fill="none"/><path d="M445.5 238.3 C445.9 236.9 448.9 234.6 450.8 233.0 C452.7 231.4 455.0 230.0 457.1 228.8 C459.2 227.6 461.0 226.5 463.5 225.6 C466.0 224.7 469.1 224.0 471.9 223.5 C474.7 223.0 477.6 222.4 480.4 222.4 C483.2 222.4 486.4 222.8 488.9 223.5 C491.4 224.2 493.4 225.2 495.2 226.6 C496.9 228.0 498.3 229.9 499.4 231.9 C500.4 233.9 501.3 236.2 501.5 238.3 C501.7 240.4 501.2 242.7 500.5 244.6 C499.8 246.5 498.5 248.5 497.3 249.9 C496.1 251.3 495.2 252.2 493.1 253.1 C491.0 254.0 487.1 254.7 484.6 255.2 C482.1 255.7 480.4 256.5 478.3 256.3 C476.2 256.1 474.4 255.2 471.9 254.1 C469.4 253.0 466.3 251.3 463.5 249.9 C460.7 248.5 457.5 247.1 455.0 245.7 C452.5 244.3 450.3 242.6 448.7 241.4 C447.1 240.2 445.1 239.7 445.5 238.3 Z" fill="#f9f7fd" stroke="#b4b8ec" stroke-width="1.2"/><path d="M470 254 Q480 258 492 253.5" stroke="#9cb0e6" stroke-width="1.8" fill="none"/><ellipse cx="489.5" cy="221" rx="4" ry="2" fill="#d6e2f8"/><circle cx="485.1" cy="244.5" r="0.4" fill="#9a88d8"/><circle cx="490.2" cy="244.1" r="0.7" fill="#8c78d0"/><circle cx="475.9" cy="246.7" r="0.6" fill="#b8a8e8"/><circle cx="491.5" cy="242.0" r="0.7" fill="#8c78d0"/><circle cx="484.1" cy="242.0" r="0.3" fill="#9a88d8"/><circle cx="486.2" cy="251.1" r="0.3" fill="#b8a8e8"/><circle cx="490.5" cy="249.5" r="0.7" fill="#9a88d8"/><circle cx="478.9" cy="242.7" r="0.7" fill="#8c78d0"/><circle cx="492.5" cy="250.9" r="0.4" fill="#8c78d0"/><circle cx="493.4" cy="242.4" r="0.7" fill="#9a88d8"/><circle cx="475.3" cy="244.5" r="0.4" fill="#8c78d0"/><circle cx="479.7" cy="248.8" r="0.7" fill="#9a88d8"/><circle cx="474.1" cy="249.2" r="0.7" fill="#9a88d8"/><circle cx="478.9" cy="240.1" r="0.4" fill="#9a88d8"/><circle cx="496.0" cy="246.0" r="0.5" fill="#b8a8e8"/><circle cx="496.1" cy="245.0" r="0.4" fill="#8c78d0"/><circle cx="492.4" cy="248.4" r="0.4" fill="#9a88d8"/><circle cx="488.6" cy="251.5" r="0.4" fill="#9a88d8"/><circle cx="490.4" cy="250.2" r="0.4" fill="#b8a8e8"/><circle cx="497.9" cy="252.0" r="0.6" fill="#9a88d8"/><circle cx="483.7" cy="250.9" r="0.5" fill="#9a88d8"/><circle cx="475.0" cy="244.4" r="0.5" fill="#b8a8e8"/></g>
<clipPath id="csp"><rect x="286.3" y="292.1" width="112.9" height="83.0"/></clipPath><g clip-path="url(#csp)"><rect x="286.3" y="292.1" width="112.9" height="83.0" fill="#968aee"/><defs><radialGradient id="rgL"><stop offset="0" stop-color="#a848d4"/><stop offset="0.5" stop-color="#a458d8" stop-opacity="0.85"/><stop offset="1" stop-color="#9a70e8" stop-opacity="0"/></radialGradient><radialGradient id="rgP"><stop offset="0" stop-color="#d8a8e6"/><stop offset="1" stop-color="#c090e0" stop-opacity="0"/></radialGradient></defs><ellipse cx="300" cy="338" rx="22" ry="30" fill="url(#rgL)"/><ellipse cx="292" cy="365" rx="12" ry="12" fill="url(#rgL)" opacity="0.7"/><ellipse cx="393" cy="350" rx="20" ry="32" fill="url(#rgL)"/><ellipse cx="376" cy="366" rx="14" ry="12" fill="url(#rgL)" opacity="0.7"/><ellipse cx="398" cy="294" rx="7" ry="6" fill="url(#rgL)"/><ellipse cx="292" cy="338" rx="6" ry="10" fill="url(#rgP)" opacity="0.8"/><rect x="286.3" y="292.1" width="112.9" height="83.0" filter="url(#nS2)" opacity="1.0"/><rect x="286.3" y="292.1" width="112.9" height="83.0" filter="url(#nSD)" opacity="1.0"/><rect x="286.3" y="292.1" width="112.9" height="83.0" filter="url(#nS)" opacity="1.0"/></g>
<clipPath id="ci"><rect x="402.4" y="292.1" width="112.2" height="82.6"/></clipPath><g clip-path="url(#ci)"><rect x="402.4" y="292.1" width="112.2" height="82.6" fill="#9a66e0"/><defs><radialGradient id="rgI"><stop offset="0" stop-color="#aa92ee" stop-opacity="0.85"/><stop offset="0.6" stop-color="#a68cec" stop-opacity="0.6"/><stop offset="1" stop-color="#a68cec" stop-opacity="0"/></radialGradient></defs><ellipse cx="428" cy="330" rx="30" ry="48" fill="url(#rgI)"/><rect x="402.4" y="292.1" width="112.2" height="82.6" filter="url(#nI)" opacity="1.0"/><rect x="402.4" y="292.1" width="112.2" height="82.6" filter="url(#nID)" opacity="1.0"/><path d="M401 291 L412 291 Q407 300 405 310 Q403.3 320 402.8 332 L402.4 340 L401 340 Z" fill="#f1e6f7"/><defs><linearGradient id="lgB" x1="0" y1="0" x2="0" y2="1"><stop offset="0" stop-color="#b052cc"/><stop offset="0.55" stop-color="#b058cc" stop-opacity="0.9"/><stop offset="1" stop-color="#b470d8" stop-opacity="0.45"/></linearGradient><linearGradient id="lgC" x1="0" y1="0" x2="0" y2="1"><stop offset="0" stop-color="#b49aea"/><stop offset="1" stop-color="#b49aea" stop-opacity="0.3"/></linearGradient></defs><path d="M413.5 291.5 Q409 300 407 310 Q405.3 320 405 335 L404.6 376" stroke="url(#lgB)" stroke-width="4.6" fill="none"/><path d="M417.2 292 Q412.8 300 410.8 310 Q409.3 320 409.2 335 L409 376" stroke="url(#lgC)" stroke-width="2.6" fill="none"/><path d="M414.5 313 L417 316 M417 313 L414.5 316" stroke="#f0e8fb" stroke-width="1.2"/><path d="M455.4 295.1 L459.0 297.2 L461.6 300.3 L464.2 303.9 L467.2 306.5 L470.8 308.0 L473.9 310.0 L477.0 313.7 L480.0 316.3 L482.1 317.8 L486.2 321.9 L488.3 325.0 L489.3 330.0 L491.0 333.9 L493.4 339.8 L495.8 343.4 L499.3 346.9 L501.7 351.7 L505.2 357.6 L510.0 364.7 L513.5 370.6 L515.0 374.0" stroke="#c48ae6" stroke-width="3.4" fill="none" stroke-linejoin="round" stroke-linecap="round" opacity="0.55"/><path d="M455.4 295.1 L459.0 297.2 L461.6 300.3 L464.2 303.9 L467.2 306.5 L470.8 308.0 L473.9 310.0 L477.0 313.7 L480.0 316.3 L482.1 317.8 L486.2 321.9 L488.3 325.0 L489.3 330.0 L491.0 333.9 L493.4 339.8 L495.8 343.4 L499.3 346.9 L501.7 351.7 L505.2 357.6 L510.0 364.7 L513.5 370.6 L515.0 374.0" stroke="#f9f2fd" stroke-width="1.6" fill="none" stroke-linejoin="round" stroke-linecap="round"/><path d="M470.8 308.0 L475.0 306.5 L480.0 304.4 L487.3 302.9" stroke="#c48ae6" stroke-width="3.4" fill="none" stroke-linejoin="round" stroke-linecap="round" opacity="0.55"/><path d="M470.8 308.0 L475.0 306.5 L480.0 304.4 L487.3 302.9" stroke="#f9f2fd" stroke-width="1.6" fill="none" stroke-linejoin="round" stroke-linecap="round"/><path d="M474.0 291.5 L480.0 296.2 L482.1 297.2 L485.2 300.3 L487.3 302.9 L491.4 304.4 L498.6 304.4 L502.7 302.9 L504.7 300.3 L508.8 297.7 L515.0 295.5" stroke="#c48ae6" stroke-width="3.4" fill="none" stroke-linejoin="round" stroke-linecap="round" opacity="0.55"/><path d="M474.0 291.5 L480.0 296.2 L482.1 297.2 L485.2 300.3 L487.3 302.9 L491.4 304.4 L498.6 304.4 L502.7 302.9 L504.7 300.3 L508.8 297.7 L515.0 295.5" stroke="#f9f2fd" stroke-width="1.6" fill="none" stroke-linejoin="round" stroke-linecap="round"/><path d="M502.7 291.5 L504.2 295.1 L504.7 300.3" stroke="#c48ae6" stroke-width="3.4" fill="none" stroke-linejoin="round" stroke-linecap="round" opacity="0.55"/><path d="M502.7 291.5 L504.2 295.1 L504.7 300.3" stroke="#f9f2fd" stroke-width="1.6" fill="none" stroke-linejoin="round" stroke-linecap="round"/><path d="M504.7 302.3 L506.8 307.5 L509.9 311.6 L515.0 315.0" stroke="#c48ae6" stroke-width="3.4" fill="none" stroke-linejoin="round" stroke-linecap="round" opacity="0.55"/><path d="M504.7 302.3 L506.8 307.5 L509.9 311.6 L515.0 315.0" stroke="#f9f2fd" stroke-width="1.6" fill="none" stroke-linejoin="round" stroke-linecap="round"/><path d="M488.3 325.0 L491.4 324.0 L498.6 323.4 L503.7 323.9 L508.8 326.0 L515.0 329.5" stroke="#c48ae6" stroke-width="3.4" fill="none" stroke-linejoin="round" stroke-linecap="round" opacity="0.55"/><path d="M488.3 325.0 L491.4 324.0 L498.6 323.4 L503.7 323.9 L508.8 326.0 L515.0 329.5" stroke="#f9f2fd" stroke-width="1.6" fill="none" stroke-linejoin="round" stroke-linecap="round"/><path d="M451.3 305.4 L452.3 309.5 L453.9 313.7 L456.5 317.8 L460.6 321.9 L463.7 325.0 L466.7 328.0 L468.8 330.0 L472.0 332.7 L474.3 337.5 L474.9 341.0 L475.5 342.2 L479.0 348.1 L481.6 351.7 L485.1 356.4 L489.8 362.3 L493.4 368.2 L496.0 374.0" stroke="#c48ae6" stroke-width="3.4" fill="none" stroke-linejoin="round" stroke-linecap="round" opacity="0.55"/><path d="M451.3 305.4 L452.3 309.5 L453.9 313.7 L456.5 317.8 L460.6 321.9 L463.7 325.0 L466.7 328.0 L468.8 330.0 L472.0 332.7 L474.3 337.5 L474.9 341.0 L475.5 342.2 L479.0 348.1 L481.6 351.7 L485.1 356.4 L489.8 362.3 L493.4 368.2 L496.0 374.0" stroke="#f9f2fd" stroke-width="1.6" fill="none" stroke-linejoin="round" stroke-linecap="round"/><path d="M443.6 332.7 L448.3 336.3 L453.0 339.8 L454.2 341.0 L460.1 340.4 L466.0 340.4 L473.1 341.6 L475.5 342.0" stroke="#c48ae6" stroke-width="3.4" fill="none" stroke-linejoin="round" stroke-linecap="round" opacity="0.55"/><path d="M443.6 332.7 L448.3 336.3 L453.0 339.8 L454.2 341.0 L460.1 340.4 L466.0 340.4 L473.1 341.6 L475.5 342.0" stroke="#f9f2fd" stroke-width="1.6" fill="none" stroke-linejoin="round" stroke-linecap="round"/><path d="M474.5 338.0 L478.0 336.9 L483.9 339.8 L489.8 342.2 L495.8 343.4" stroke="#c48ae6" stroke-width="3.4" fill="none" stroke-linejoin="round" stroke-linecap="round" opacity="0.55"/><path d="M474.5 338.0 L478.0 336.9 L483.9 339.8 L489.8 342.2 L495.8 343.4" stroke="#f9f2fd" stroke-width="1.6" fill="none" stroke-linejoin="round" stroke-linecap="round"/><path d="M454.2 341.0 L451.8 345.8 L455.4 348.7 L461.3 352.9 L466.0 358.8 L469.6 364.7 L472.0 368.2 L475.5 369.4 L480.0 370.0 L481.6 371.8" stroke="#c48ae6" stroke-width="3.4" fill="none" stroke-linejoin="round" stroke-linecap="round" opacity="0.55"/><path d="M454.2 341.0 L451.8 345.8 L455.4 348.7 L461.3 352.9 L466.0 358.8 L469.6 364.7 L472.0 368.2 L475.5 369.4 L480.0 370.0 L481.6 371.8" stroke="#f9f2fd" stroke-width="1.6" fill="none" stroke-linejoin="round" stroke-linecap="round"/><path d="M447.1 346.9 L451.8 345.8" stroke="#c48ae6" stroke-width="3.4" fill="none" stroke-linejoin="round" stroke-linecap="round" opacity="0.55"/><path d="M447.1 346.9 L451.8 345.8" stroke="#f9f2fd" stroke-width="1.6" fill="none" stroke-linejoin="round" stroke-linecap="round"/><path d="M454.2 370.6 L460.1 368.2 L472.0 368.8" stroke="#c48ae6" stroke-width="3.4" fill="none" stroke-linejoin="round" stroke-linecap="round" opacity="0.55"/><path d="M454.2 370.6 L460.1 368.2 L472.0 368.8" stroke="#f9f2fd" stroke-width="1.6" fill="none" stroke-linejoin="round" stroke-linecap="round"/><path d="M499.3 346.9 L505.2 348.1 L512.3 350.5 L515.0 351.7" stroke="#c48ae6" stroke-width="3.4" fill="none" stroke-linejoin="round" stroke-linecap="round" opacity="0.55"/><path d="M499.3 346.9 L505.2 348.1 L512.3 350.5 L515.0 351.7" stroke="#f9f2fd" stroke-width="1.6" fill="none" stroke-linejoin="round" stroke-linecap="round"/><path d="M503.5 325.5 L505.2 328.0 L510.0 332.7 L515.0 336.3" stroke="#c48ae6" stroke-width="3.4" fill="none" stroke-linejoin="round" stroke-linecap="round" opacity="0.55"/><path d="M503.5 325.5 L505.2 328.0 L510.0 332.7 L515.0 336.3" stroke="#f9f2fd" stroke-width="1.6" fill="none" stroke-linejoin="round" stroke-linecap="round"/><path d="M440.0 362.3 L442.4 364.7" stroke="#c48ae6" stroke-width="3.4" fill="none" stroke-linejoin="round" stroke-linecap="round" opacity="0.55"/><path d="M440.0 362.3 L442.4 364.7" stroke="#f9f2fd" stroke-width="1.6" fill="none" stroke-linejoin="round" stroke-linecap="round"/></g>
<text transform="translate(287.8 287.8) scale(1.0 1.12)" class="cl">Skin&#160;&#160;x200</text>
<text transform="translate(403.3 287.6) scale(1.0 1.12)" class="cl">Liver&#160;&#160;x200</text>
<text transform="translate(286.0 384.9) scale(1.0 1.12)" class="cl">Spleen&#160;&#160;x200</text>
<text transform="translate(402.6 384.3) scale(1.0 1.12)" class="cl">Intestine&#160;&#160;x200</text>
</svg>
</body></html>
